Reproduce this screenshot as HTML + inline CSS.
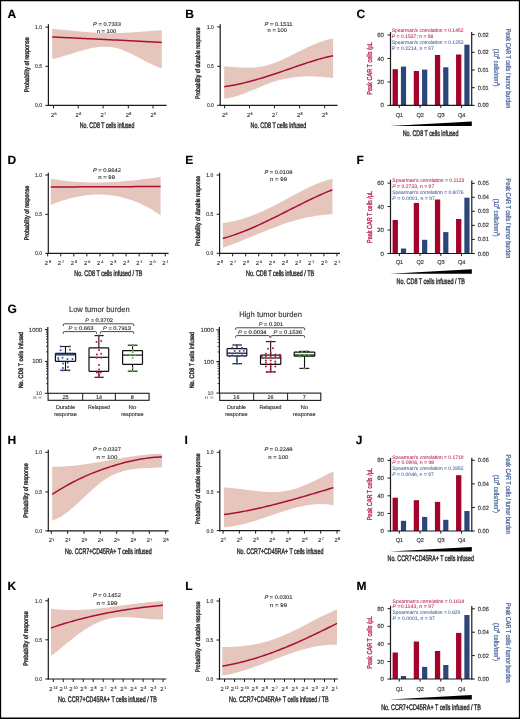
<!DOCTYPE html>
<html><head><meta charset="utf-8"><title>Figure</title>
<style>
html,body{margin:0;padding:0;background:#fff;}
body{width:520px;height:719px;overflow:hidden;}
svg{display:block;font-family:"Liberation Sans", sans-serif;will-change:transform;text-rendering:geometricPrecision;}
</style></head><body>
<svg width="520" height="719" viewBox="0 0 520 719">
<rect x="0" y="0" width="520" height="719" fill="#fff"/>
<g fill="#333">
<path d="M52.2,28.87 L54.53,29.04 L56.86,29.22 L59.2,29.42 L61.53,29.63 L63.86,29.84 L66.19,30.06 L68.52,30.29 L70.86,30.52 L73.19,30.75 L75.52,30.98 L77.85,31.2 L80.18,31.43 L82.51,31.64 L84.85,31.85 L87.18,32.05 L89.51,32.24 L91.84,32.41 L94.17,32.57 L96.51,32.72 L98.84,32.84 L101.17,32.95 L103.5,33.03 L105.83,33.09 L108.17,33.13 L110.5,33.14 L112.83,33.13 L115.16,33.1 L117.49,33.04 L119.83,32.98 L122.16,32.89 L124.49,32.79 L126.82,32.67 L129.15,32.55 L131.49,32.41 L133.82,32.26 L136.15,32.1 L138.48,31.93 L140.81,31.76 L143.14,31.58 L145.48,31.4 L147.81,31.22 L150.14,31.03 L152.47,30.85 L154.8,30.66 L157.14,30.48 L159.47,30.31 L161.8,30.14 L161.8,68.47 L159.47,67.66 L157.14,66.76 L154.8,65.77 L152.47,64.71 L150.14,63.59 L147.81,62.42 L145.48,61.21 L143.14,59.98 L140.81,58.74 L138.48,57.5 L136.15,56.27 L133.82,55.06 L131.49,53.89 L129.15,52.77 L126.82,51.71 L124.49,50.72 L122.16,49.81 L119.83,49 L117.49,48.3 L115.16,47.72 L112.83,47.27 L110.5,46.95 L108.17,46.75 L105.83,46.66 L103.5,46.68 L101.17,46.8 L98.84,47 L96.51,47.29 L94.17,47.66 L91.84,48.1 L89.51,48.59 L87.18,49.15 L84.85,49.75 L82.51,50.39 L80.18,51.06 L77.85,51.76 L75.52,52.47 L73.19,53.2 L70.86,53.93 L68.52,54.65 L66.19,55.37 L63.86,56.07 L61.53,56.74 L59.2,57.38 L56.86,57.97 L54.53,58.53 L52.2,59.02 Z" fill="#e6c6bc"/>
<path d="M52.2,37 L54.53,37.11 L56.86,37.21 L59.2,37.32 L61.53,37.43 L63.86,37.54 L66.19,37.64 L68.52,37.75 L70.86,37.86 L73.19,37.97 L75.52,38.08 L77.85,38.19 L80.18,38.3 L82.51,38.41 L84.85,38.52 L87.18,38.64 L89.51,38.75 L91.84,38.86 L94.17,38.97 L96.51,39.09 L98.84,39.2 L101.17,39.31 L103.5,39.43 L105.83,39.54 L108.17,39.66 L110.5,39.77 L112.83,39.89 L115.16,40 L117.49,40.12 L119.83,40.24 L122.16,40.35 L124.49,40.47 L126.82,40.59 L129.15,40.71 L131.49,40.83 L133.82,40.95 L136.15,41.06 L138.48,41.18 L140.81,41.3 L143.14,41.42 L145.48,41.55 L147.81,41.67 L150.14,41.79 L152.47,41.91 L154.8,42.03 L157.14,42.15 L159.47,42.28 L161.8,42.4" fill="none" stroke="#a90f35" stroke-width="1.5"/>
<line x1="48.4" y1="24.3" x2="48.4" y2="106" stroke="#1a1a1a" stroke-width="1.2"/>
<line x1="45.4" y1="27.1" x2="48.4" y2="27.1" stroke="#1a1a1a" stroke-width="1"/>
<text x="42.1" y="29" font-size="5.5" stroke="#333333" stroke-width="0.14" text-anchor="end" textLength="7" lengthAdjust="spacingAndGlyphs">1.0</text>
<line x1="45.4" y1="66.3" x2="48.4" y2="66.3" stroke="#1a1a1a" stroke-width="1"/>
<text x="42.1" y="68.2" font-size="5.5" stroke="#333333" stroke-width="0.14" text-anchor="end" textLength="7" lengthAdjust="spacingAndGlyphs">0.5</text>
<line x1="45.4" y1="105.4" x2="48.4" y2="105.4" stroke="#1a1a1a" stroke-width="1"/>
<text x="42.1" y="107.3" font-size="5.5" stroke="#333333" stroke-width="0.14" text-anchor="end" textLength="7" lengthAdjust="spacingAndGlyphs">0.0</text>
<line x1="47.8" y1="105.4" x2="166.6" y2="105.4" stroke="#1a1a1a" stroke-width="1.2"/>
<line x1="53.5" y1="105.4" x2="53.5" y2="108.4" stroke="#1a1a1a" stroke-width="1"/>
<text x="53.7" y="116.9" font-size="5.8" text-anchor="middle" stroke="#333333" stroke-width="0.14">2<tspan font-size="3.71" dx="0.3" dy="-1.9">5</tspan></text>
<line x1="78.2" y1="105.4" x2="78.2" y2="108.4" stroke="#1a1a1a" stroke-width="1"/>
<text x="78.4" y="116.9" font-size="5.8" text-anchor="middle" stroke="#333333" stroke-width="0.14">2<tspan font-size="3.71" dx="0.3" dy="-1.9">6</tspan></text>
<line x1="103.1" y1="105.4" x2="103.1" y2="108.4" stroke="#1a1a1a" stroke-width="1"/>
<text x="103.3" y="116.9" font-size="5.8" text-anchor="middle" stroke="#333333" stroke-width="0.14">2<tspan font-size="3.71" dx="0.3" dy="-1.9">7</tspan></text>
<line x1="128.3" y1="105.4" x2="128.3" y2="108.4" stroke="#1a1a1a" stroke-width="1"/>
<text x="128.5" y="116.9" font-size="5.8" text-anchor="middle" stroke="#333333" stroke-width="0.14">2<tspan font-size="3.71" dx="0.3" dy="-1.9">8</tspan></text>
<line x1="153" y1="105.4" x2="153" y2="108.4" stroke="#1a1a1a" stroke-width="1"/>
<text x="153.2" y="116.9" font-size="5.8" text-anchor="middle" stroke="#333333" stroke-width="0.14">2<tspan font-size="3.71" dx="0.3" dy="-1.9">9</tspan></text>
<text x="107" y="25.66" font-size="5.4" text-anchor="middle" stroke="#333333" stroke-width="0.14" textLength="28" lengthAdjust="spacingAndGlyphs"><tspan font-style="italic">P</tspan> = 0.7333</text>
<text x="106.5" y="32.6" font-size="5.4" stroke="#333333" stroke-width="0.14" text-anchor="middle" textLength="19.5" lengthAdjust="spacingAndGlyphs">n = 100</text>
<text transform="translate(26.4 64.8) rotate(-90)" x="0" y="2.27" font-size="6.6" text-anchor="middle" textLength="55" lengthAdjust="spacingAndGlyphs" stroke="#333333" stroke-width="0.45">Probability of response</text>
<text x="107.1" y="128.04" font-size="8.1" stroke="#333333" stroke-width="0.45" text-anchor="middle" textLength="54.6" lengthAdjust="spacingAndGlyphs">No. CD8 T cells infused</text>
<text x="7.5" y="18.3" font-size="12" stroke="#000" stroke-width="0.14" fill="#000" font-weight="bold">A</text>
<path d="M224.2,66.35 L226.52,66.51 L228.83,66.68 L231.15,66.86 L233.47,67.03 L235.79,67.19 L238.1,67.33 L240.42,67.45 L242.74,67.55 L245.05,67.61 L247.37,67.63 L249.69,67.6 L252,67.52 L254.32,67.38 L256.64,67.18 L258.96,66.91 L261.27,66.56 L263.59,66.13 L265.91,65.61 L268.22,65 L270.54,64.3 L272.86,63.53 L275.17,62.68 L277.49,61.76 L279.81,60.79 L282.13,59.77 L284.44,58.71 L286.76,57.61 L289.08,56.49 L291.39,55.35 L293.71,54.2 L296.03,53.03 L298.34,51.87 L300.66,50.71 L302.98,49.56 L305.3,48.43 L307.61,47.32 L309.93,46.24 L312.25,45.19 L314.56,44.19 L316.88,43.24 L319.2,42.33 L321.51,41.49 L323.83,40.71 L326.15,40.01 L328.47,39.38 L330.78,38.84 L333.1,38.39 L333.1,77.98 L330.78,77.69 L328.47,77.43 L326.15,77.19 L323.83,76.98 L321.51,76.79 L319.2,76.64 L316.88,76.51 L314.56,76.42 L312.25,76.37 L309.93,76.34 L307.61,76.36 L305.3,76.41 L302.98,76.51 L300.66,76.64 L298.34,76.82 L296.03,77.05 L293.71,77.32 L291.39,77.63 L289.08,78 L286.76,78.41 L284.44,78.88 L282.13,79.4 L279.81,79.98 L277.49,80.62 L275.17,81.31 L272.86,82.06 L270.54,82.86 L268.22,83.71 L265.91,84.61 L263.59,85.53 L261.27,86.48 L258.96,87.44 L256.64,88.41 L254.32,89.39 L252,90.36 L249.69,91.31 L247.37,92.25 L245.05,93.16 L242.74,94.03 L240.42,94.85 L238.1,95.63 L235.79,96.35 L233.47,97 L231.15,97.58 L228.83,98.08 L226.52,98.49 L224.2,98.81 Z" fill="#e6c6bc"/>
<path d="M224.2,86.67 L226.52,86.33 L228.83,85.97 L231.15,85.57 L233.47,85.14 L235.79,84.69 L238.1,84.21 L240.42,83.71 L242.74,83.18 L245.05,82.63 L247.37,82.05 L249.69,81.46 L252,80.84 L254.32,80.21 L256.64,79.55 L258.96,78.88 L261.27,78.2 L263.59,77.49 L265.91,76.77 L268.22,76.04 L270.54,75.29 L272.86,74.54 L275.17,73.77 L277.49,72.99 L279.81,72.2 L282.13,71.41 L284.44,70.61 L286.76,69.8 L289.08,68.99 L291.39,68.18 L293.71,67.37 L296.03,66.57 L298.34,65.77 L300.66,64.98 L302.98,64.2 L305.3,63.42 L307.61,62.66 L309.93,61.92 L312.25,61.19 L314.56,60.48 L316.88,59.8 L319.2,59.13 L321.51,58.49 L323.83,57.87 L326.15,57.29 L328.47,56.73 L330.78,56.21 L333.1,55.72" fill="none" stroke="#a90f35" stroke-width="1.5"/>
<line x1="220.2" y1="24.3" x2="220.2" y2="105.9" stroke="#1a1a1a" stroke-width="1.2"/>
<line x1="217.2" y1="26.9" x2="220.2" y2="26.9" stroke="#1a1a1a" stroke-width="1"/>
<text x="213.9" y="28.8" font-size="5.5" stroke="#333333" stroke-width="0.14" text-anchor="end" textLength="7" lengthAdjust="spacingAndGlyphs">1.0</text>
<line x1="217.2" y1="66.3" x2="220.2" y2="66.3" stroke="#1a1a1a" stroke-width="1"/>
<text x="213.9" y="68.2" font-size="5.5" stroke="#333333" stroke-width="0.14" text-anchor="end" textLength="7" lengthAdjust="spacingAndGlyphs">0.5</text>
<line x1="217.2" y1="105.3" x2="220.2" y2="105.3" stroke="#1a1a1a" stroke-width="1"/>
<text x="213.9" y="107.2" font-size="5.5" stroke="#333333" stroke-width="0.14" text-anchor="end" textLength="7" lengthAdjust="spacingAndGlyphs">0.0</text>
<line x1="219.6" y1="105.3" x2="337.6" y2="105.3" stroke="#1a1a1a" stroke-width="1.2"/>
<line x1="224.6" y1="105.3" x2="224.6" y2="108.3" stroke="#1a1a1a" stroke-width="1"/>
<text x="224.8" y="116.8" font-size="5.8" text-anchor="middle" stroke="#333333" stroke-width="0.14">2<tspan font-size="3.71" dx="0.3" dy="-1.9">5</tspan></text>
<line x1="249.5" y1="105.3" x2="249.5" y2="108.3" stroke="#1a1a1a" stroke-width="1"/>
<text x="249.7" y="116.8" font-size="5.8" text-anchor="middle" stroke="#333333" stroke-width="0.14">2<tspan font-size="3.71" dx="0.3" dy="-1.9">6</tspan></text>
<line x1="274.5" y1="105.3" x2="274.5" y2="108.3" stroke="#1a1a1a" stroke-width="1"/>
<text x="274.7" y="116.8" font-size="5.8" text-anchor="middle" stroke="#333333" stroke-width="0.14">2<tspan font-size="3.71" dx="0.3" dy="-1.9">7</tspan></text>
<line x1="299.6" y1="105.3" x2="299.6" y2="108.3" stroke="#1a1a1a" stroke-width="1"/>
<text x="299.8" y="116.8" font-size="5.8" text-anchor="middle" stroke="#333333" stroke-width="0.14">2<tspan font-size="3.71" dx="0.3" dy="-1.9">8</tspan></text>
<line x1="324.6" y1="105.3" x2="324.6" y2="108.3" stroke="#1a1a1a" stroke-width="1"/>
<text x="324.8" y="116.8" font-size="5.8" text-anchor="middle" stroke="#333333" stroke-width="0.14">2<tspan font-size="3.71" dx="0.3" dy="-1.9">9</tspan></text>
<text x="278.5" y="25.96" font-size="5.4" text-anchor="middle" stroke="#333333" stroke-width="0.14" textLength="28" lengthAdjust="spacingAndGlyphs"><tspan font-style="italic">P</tspan> = 0.1511</text>
<text x="277.3" y="32.3" font-size="5.4" stroke="#333333" stroke-width="0.14" text-anchor="middle" textLength="19.5" lengthAdjust="spacingAndGlyphs">n = 100</text>
<text transform="translate(197.8 63.2) rotate(-90)" x="0" y="2.27" font-size="6.6" text-anchor="middle" textLength="71.6" lengthAdjust="spacingAndGlyphs" stroke="#333333" stroke-width="0.45">Probability of durable response</text>
<text x="278.45" y="127.99" font-size="8.1" stroke="#333333" stroke-width="0.45" text-anchor="middle" textLength="55.7" lengthAdjust="spacingAndGlyphs">No. CD8 T cells infused</text>
<text x="185.3" y="17.6" font-size="12" stroke="#000" stroke-width="0.14" fill="#000" font-weight="bold">B</text>
<path d="M50.8,178.71 L53.14,179.1 L55.47,179.47 L57.81,179.82 L60.14,180.15 L62.48,180.46 L64.82,180.74 L67.15,181 L69.49,181.24 L71.83,181.46 L74.16,181.65 L76.5,181.83 L78.83,181.98 L81.17,182.11 L83.51,182.23 L85.84,182.32 L88.18,182.39 L90.51,182.45 L92.85,182.48 L95.19,182.5 L97.52,182.49 L99.86,182.47 L102.2,182.42 L104.53,182.36 L106.87,182.28 L109.2,182.19 L111.54,182.07 L113.88,181.94 L116.21,181.8 L118.55,181.63 L120.89,181.46 L123.22,181.27 L125.56,181.07 L127.89,180.85 L130.23,180.63 L132.57,180.39 L134.9,180.15 L137.24,179.89 L139.57,179.63 L141.91,179.36 L144.25,179.08 L146.58,178.8 L148.92,178.51 L151.26,178.22 L153.59,177.92 L155.93,177.62 L158.26,177.31 L160.6,177.01 L160.6,215.33 L158.26,213.73 L155.93,212.19 L153.59,210.72 L151.26,209.33 L148.92,207.99 L146.58,206.73 L144.25,205.53 L141.91,204.4 L139.57,203.33 L137.24,202.33 L134.9,201.39 L132.57,200.52 L130.23,199.7 L127.89,198.95 L125.56,198.26 L123.22,197.64 L120.89,197.07 L118.55,196.56 L116.21,196.11 L113.88,195.72 L111.54,195.38 L109.2,195.11 L106.87,194.89 L104.53,194.72 L102.2,194.62 L99.86,194.56 L97.52,194.56 L95.19,194.61 L92.85,194.72 L90.51,194.88 L88.18,195.09 L85.84,195.35 L83.51,195.66 L81.17,196.02 L78.83,196.43 L76.5,196.89 L74.16,197.39 L71.83,197.94 L69.49,198.54 L67.15,199.19 L64.82,199.88 L62.48,200.62 L60.14,201.39 L57.81,202.22 L55.47,203.08 L53.14,203.99 L50.8,204.94 Z" fill="#e6c6bc"/>
<path d="M50.8,187 L53.14,186.99 L55.47,186.98 L57.81,186.97 L60.14,186.96 L62.48,186.95 L64.82,186.94 L67.15,186.93 L69.49,186.91 L71.83,186.9 L74.16,186.89 L76.5,186.88 L78.83,186.87 L81.17,186.86 L83.51,186.85 L85.84,186.84 L88.18,186.83 L90.51,186.82 L92.85,186.81 L95.19,186.8 L97.52,186.79 L99.86,186.78 L102.2,186.77 L104.53,186.76 L106.87,186.74 L109.2,186.73 L111.54,186.72 L113.88,186.71 L116.21,186.7 L118.55,186.69 L120.89,186.68 L123.22,186.67 L125.56,186.66 L127.89,186.65 L130.23,186.64 L132.57,186.63 L134.9,186.62 L137.24,186.61 L139.57,186.6 L141.91,186.59 L144.25,186.57 L146.58,186.56 L148.92,186.55 L151.26,186.54 L153.59,186.53 L155.93,186.52 L158.26,186.51 L160.6,186.5" fill="none" stroke="#a90f35" stroke-width="1.5"/>
<line x1="48.3" y1="172.7" x2="48.3" y2="254" stroke="#1a1a1a" stroke-width="1.2"/>
<line x1="45.3" y1="175" x2="48.3" y2="175" stroke="#1a1a1a" stroke-width="1"/>
<text x="42" y="176.9" font-size="5.5" stroke="#333333" stroke-width="0.14" text-anchor="end" textLength="7" lengthAdjust="spacingAndGlyphs">1.0</text>
<line x1="45.3" y1="214.4" x2="48.3" y2="214.4" stroke="#1a1a1a" stroke-width="1"/>
<text x="42" y="216.3" font-size="5.5" stroke="#333333" stroke-width="0.14" text-anchor="end" textLength="7" lengthAdjust="spacingAndGlyphs">0.5</text>
<line x1="45.3" y1="253.4" x2="48.3" y2="253.4" stroke="#1a1a1a" stroke-width="1"/>
<text x="42" y="255.3" font-size="5.5" stroke="#333333" stroke-width="0.14" text-anchor="end" textLength="7" lengthAdjust="spacingAndGlyphs">0.0</text>
<line x1="47.7" y1="253.4" x2="168.6" y2="253.4" stroke="#1a1a1a" stroke-width="1.2"/>
<line x1="47.7" y1="253.4" x2="47.7" y2="256.4" stroke="#1a1a1a" stroke-width="1"/>
<text x="47.9" y="264.9" font-size="5.8" text-anchor="middle" stroke="#333333" stroke-width="0.14">2<tspan font-size="3.71" dx="1" dy="-1.9">8</tspan></text>
<line x1="60.76" y1="253.4" x2="60.76" y2="256.4" stroke="#1a1a1a" stroke-width="1"/>
<text x="60.96" y="264.9" font-size="5.8" text-anchor="middle" stroke="#333333" stroke-width="0.14">2<tspan font-size="3.71" dx="1" dy="-1.9">7</tspan></text>
<line x1="73.82" y1="253.4" x2="73.82" y2="256.4" stroke="#1a1a1a" stroke-width="1"/>
<text x="74.02" y="264.9" font-size="5.8" text-anchor="middle" stroke="#333333" stroke-width="0.14">2<tspan font-size="3.71" dx="1" dy="-1.9">6</tspan></text>
<line x1="86.88" y1="253.4" x2="86.88" y2="256.4" stroke="#1a1a1a" stroke-width="1"/>
<text x="87.08" y="264.9" font-size="5.8" text-anchor="middle" stroke="#333333" stroke-width="0.14">2<tspan font-size="3.71" dx="1" dy="-1.9">5</tspan></text>
<line x1="99.94" y1="253.4" x2="99.94" y2="256.4" stroke="#1a1a1a" stroke-width="1"/>
<text x="100.14" y="264.9" font-size="5.8" text-anchor="middle" stroke="#333333" stroke-width="0.14">2<tspan font-size="3.71" dx="1" dy="-1.9">4</tspan></text>
<line x1="113" y1="253.4" x2="113" y2="256.4" stroke="#1a1a1a" stroke-width="1"/>
<text x="113.2" y="264.9" font-size="5.8" text-anchor="middle" stroke="#333333" stroke-width="0.14">2<tspan font-size="3.71" dx="1" dy="-1.9">3</tspan></text>
<line x1="126.06" y1="253.4" x2="126.06" y2="256.4" stroke="#1a1a1a" stroke-width="1"/>
<text x="126.26" y="264.9" font-size="5.8" text-anchor="middle" stroke="#333333" stroke-width="0.14">2<tspan font-size="3.71" dx="1" dy="-1.9">2</tspan></text>
<line x1="139.12" y1="253.4" x2="139.12" y2="256.4" stroke="#1a1a1a" stroke-width="1"/>
<text x="139.32" y="264.9" font-size="5.8" text-anchor="middle" stroke="#333333" stroke-width="0.14">2<tspan font-size="3.71" dx="1" dy="-1.9">1</tspan></text>
<line x1="152.18" y1="253.4" x2="152.18" y2="256.4" stroke="#1a1a1a" stroke-width="1"/>
<text x="152.38" y="264.9" font-size="5.8" text-anchor="middle" stroke="#333333" stroke-width="0.14">2<tspan font-size="3.71" dx="1" dy="-1.9">0</tspan></text>
<line x1="165.24" y1="253.4" x2="165.24" y2="256.4" stroke="#1a1a1a" stroke-width="1"/>
<text x="165.44" y="264.9" font-size="5.8" text-anchor="middle" stroke="#333333" stroke-width="0.14">2<tspan font-size="3.71" dx="1" dy="-1.9">1</tspan></text>
<text x="106.9" y="172.06" font-size="5.4" text-anchor="middle" stroke="#333333" stroke-width="0.14" textLength="28" lengthAdjust="spacingAndGlyphs"><tspan font-style="italic">P</tspan> = 0.9642</text>
<text x="106.6" y="178.8" font-size="5.4" stroke="#333333" stroke-width="0.14" text-anchor="middle" textLength="16.7" lengthAdjust="spacingAndGlyphs">n = 99</text>
<text transform="translate(26.4 213.05) rotate(-90)" x="0" y="2.27" font-size="6.6" text-anchor="middle" textLength="54.5" lengthAdjust="spacingAndGlyphs" stroke="#333333" stroke-width="0.45">Probability of response</text>
<text x="108.3" y="276.19" font-size="8.1" stroke="#333333" stroke-width="0.45" text-anchor="middle" textLength="68" lengthAdjust="spacingAndGlyphs">No. CD8 T cells infused / TB</text>
<text x="7.5" y="164.4" font-size="12" stroke="#000" stroke-width="0.14" fill="#000" font-weight="bold">D</text>
<path d="M222.8,223.06 L225.13,222.78 L227.46,222.43 L229.8,222.03 L232.13,221.57 L234.46,221.05 L236.79,220.48 L239.12,219.85 L241.46,219.18 L243.79,218.46 L246.12,217.69 L248.45,216.88 L250.78,216.03 L253.11,215.14 L255.45,214.21 L257.78,213.24 L260.11,212.24 L262.44,211.21 L264.77,210.15 L267.11,209.06 L269.44,207.94 L271.77,206.8 L274.1,205.64 L276.43,204.46 L278.77,203.26 L281.1,202.05 L283.43,200.82 L285.76,199.58 L288.09,198.32 L290.43,197.07 L292.76,195.8 L295.09,194.54 L297.42,193.28 L299.75,192.04 L302.09,190.82 L304.42,189.61 L306.75,188.44 L309.08,187.29 L311.41,186.19 L313.74,185.13 L316.08,184.12 L318.41,183.16 L320.74,182.27 L323.07,181.44 L325.4,180.68 L327.74,179.99 L330.07,179.39 L332.4,178.87 L332.4,214.15 L330.07,214.29 L327.74,214.47 L325.4,214.68 L323.07,214.93 L320.74,215.21 L318.41,215.52 L316.08,215.87 L313.74,216.25 L311.41,216.67 L309.08,217.11 L306.75,217.59 L304.42,218.1 L302.09,218.64 L299.75,219.22 L297.42,219.83 L295.09,220.46 L292.76,221.13 L290.43,221.83 L288.09,222.57 L285.76,223.33 L283.43,224.11 L281.1,224.93 L278.77,225.77 L276.43,226.63 L274.1,227.51 L271.77,228.4 L269.44,229.32 L267.11,230.24 L264.77,231.18 L262.44,232.13 L260.11,233.08 L257.78,234.04 L255.45,235.01 L253.11,235.97 L250.78,236.94 L248.45,237.9 L246.12,238.86 L243.79,239.81 L241.46,240.75 L239.12,241.68 L236.79,242.6 L234.46,243.51 L232.13,244.39 L229.8,245.26 L227.46,246.11 L225.13,246.94 L222.8,247.74 Z" fill="#e6c6bc"/>
<path d="M222.8,238.45 L225.13,237.8 L227.46,237.11 L229.8,236.39 L232.13,235.64 L234.46,234.85 L236.79,234.03 L239.12,233.17 L241.46,232.29 L243.79,231.38 L246.12,230.45 L248.45,229.48 L250.78,228.5 L253.11,227.49 L255.45,226.46 L257.78,225.41 L260.11,224.34 L262.44,223.26 L264.77,222.16 L267.11,221.04 L269.44,219.92 L271.77,218.78 L274.1,217.63 L276.43,216.47 L278.77,215.31 L281.1,214.14 L283.43,212.97 L285.76,211.79 L288.09,210.61 L290.43,209.43 L292.76,208.25 L295.09,207.08 L297.42,205.91 L299.75,204.74 L302.09,203.58 L304.42,202.43 L306.75,201.29 L309.08,200.16 L311.41,199.04 L313.74,197.93 L316.08,196.84 L318.41,195.77 L320.74,194.72 L323.07,193.68 L325.4,192.66 L327.74,191.67 L330.07,190.7 L332.4,189.75" fill="none" stroke="#a90f35" stroke-width="1.5"/>
<line x1="219.6" y1="172.7" x2="219.6" y2="253.9" stroke="#1a1a1a" stroke-width="1.2"/>
<line x1="216.6" y1="175" x2="219.6" y2="175" stroke="#1a1a1a" stroke-width="1"/>
<text x="213.3" y="176.9" font-size="5.5" stroke="#333333" stroke-width="0.14" text-anchor="end" textLength="7" lengthAdjust="spacingAndGlyphs">1.0</text>
<line x1="216.6" y1="214.3" x2="219.6" y2="214.3" stroke="#1a1a1a" stroke-width="1"/>
<text x="213.3" y="216.2" font-size="5.5" stroke="#333333" stroke-width="0.14" text-anchor="end" textLength="7" lengthAdjust="spacingAndGlyphs">0.5</text>
<line x1="216.6" y1="253.3" x2="219.6" y2="253.3" stroke="#1a1a1a" stroke-width="1"/>
<text x="213.3" y="255.2" font-size="5.5" stroke="#333333" stroke-width="0.14" text-anchor="end" textLength="7" lengthAdjust="spacingAndGlyphs">0.0</text>
<line x1="219" y1="253.3" x2="340" y2="253.3" stroke="#1a1a1a" stroke-width="1.2"/>
<line x1="219.6" y1="253.3" x2="219.6" y2="256.3" stroke="#1a1a1a" stroke-width="1"/>
<text x="219.8" y="264.8" font-size="5.8" text-anchor="middle" stroke="#333333" stroke-width="0.14">2<tspan font-size="3.71" dx="1" dy="-1.9">8</tspan></text>
<line x1="232.64" y1="253.3" x2="232.64" y2="256.3" stroke="#1a1a1a" stroke-width="1"/>
<text x="232.84" y="264.8" font-size="5.8" text-anchor="middle" stroke="#333333" stroke-width="0.14">2<tspan font-size="3.71" dx="1" dy="-1.9">7</tspan></text>
<line x1="245.68" y1="253.3" x2="245.68" y2="256.3" stroke="#1a1a1a" stroke-width="1"/>
<text x="245.88" y="264.8" font-size="5.8" text-anchor="middle" stroke="#333333" stroke-width="0.14">2<tspan font-size="3.71" dx="1" dy="-1.9">6</tspan></text>
<line x1="258.72" y1="253.3" x2="258.72" y2="256.3" stroke="#1a1a1a" stroke-width="1"/>
<text x="258.92" y="264.8" font-size="5.8" text-anchor="middle" stroke="#333333" stroke-width="0.14">2<tspan font-size="3.71" dx="1" dy="-1.9">5</tspan></text>
<line x1="271.76" y1="253.3" x2="271.76" y2="256.3" stroke="#1a1a1a" stroke-width="1"/>
<text x="271.96" y="264.8" font-size="5.8" text-anchor="middle" stroke="#333333" stroke-width="0.14">2<tspan font-size="3.71" dx="1" dy="-1.9">4</tspan></text>
<line x1="284.8" y1="253.3" x2="284.8" y2="256.3" stroke="#1a1a1a" stroke-width="1"/>
<text x="285" y="264.8" font-size="5.8" text-anchor="middle" stroke="#333333" stroke-width="0.14">2<tspan font-size="3.71" dx="1" dy="-1.9">3</tspan></text>
<line x1="297.84" y1="253.3" x2="297.84" y2="256.3" stroke="#1a1a1a" stroke-width="1"/>
<text x="298.04" y="264.8" font-size="5.8" text-anchor="middle" stroke="#333333" stroke-width="0.14">2<tspan font-size="3.71" dx="1" dy="-1.9">2</tspan></text>
<line x1="310.88" y1="253.3" x2="310.88" y2="256.3" stroke="#1a1a1a" stroke-width="1"/>
<text x="311.08" y="264.8" font-size="5.8" text-anchor="middle" stroke="#333333" stroke-width="0.14">2<tspan font-size="3.71" dx="1" dy="-1.9">1</tspan></text>
<line x1="323.92" y1="253.3" x2="323.92" y2="256.3" stroke="#1a1a1a" stroke-width="1"/>
<text x="324.12" y="264.8" font-size="5.8" text-anchor="middle" stroke="#333333" stroke-width="0.14">2<tspan font-size="3.71" dx="1" dy="-1.9">0</tspan></text>
<line x1="336.96" y1="253.3" x2="336.96" y2="256.3" stroke="#1a1a1a" stroke-width="1"/>
<text x="337.16" y="264.8" font-size="5.8" text-anchor="middle" stroke="#333333" stroke-width="0.14">2<tspan font-size="3.71" dx="1" dy="-1.9">1</tspan></text>
<text x="278.4" y="173.96" font-size="5.4" text-anchor="middle" stroke="#333333" stroke-width="0.14" textLength="28" lengthAdjust="spacingAndGlyphs"><tspan font-style="italic">P</tspan> = 0.0108</text>
<text x="278.5" y="181.2" font-size="5.4" stroke="#333333" stroke-width="0.14" text-anchor="middle" textLength="17" lengthAdjust="spacingAndGlyphs">n = 99</text>
<text transform="translate(197.9 211.1) rotate(-90)" x="0" y="2.27" font-size="6.6" text-anchor="middle" textLength="70.4" lengthAdjust="spacingAndGlyphs" stroke="#333333" stroke-width="0.45">Probability of durable response</text>
<text x="280.05" y="276.39" font-size="8.1" stroke="#333333" stroke-width="0.45" text-anchor="middle" textLength="68.1" lengthAdjust="spacingAndGlyphs">No. CD8 T cells infused / TB</text>
<text x="185.3" y="164.2" font-size="12" stroke="#000" stroke-width="0.14" fill="#000" font-weight="bold">E</text>
<path d="M52.2,466.7 L54.53,466.71 L56.87,466.69 L59.2,466.64 L61.54,466.55 L63.87,466.44 L66.2,466.29 L68.54,466.12 L70.87,465.92 L73.21,465.7 L75.54,465.45 L77.87,465.19 L80.21,464.9 L82.54,464.6 L84.88,464.27 L87.21,463.94 L89.54,463.58 L91.88,463.22 L94.21,462.84 L96.55,462.46 L98.88,462.06 L101.21,461.66 L103.55,461.26 L105.88,460.85 L108.22,460.43 L110.55,460.02 L112.89,459.61 L115.22,459.2 L117.55,458.79 L119.89,458.39 L122.22,457.99 L124.56,457.6 L126.89,457.22 L129.22,456.85 L131.56,456.5 L133.89,456.16 L136.23,455.83 L138.56,455.52 L140.89,455.23 L143.23,454.96 L145.56,454.71 L147.9,454.48 L150.23,454.27 L152.56,454.1 L154.9,453.94 L157.23,453.82 L159.57,453.73 L161.9,453.67 L161.9,467.37 L159.57,467.51 L157.23,467.62 L154.9,467.72 L152.56,467.81 L150.23,467.9 L147.9,468 L145.56,468.1 L143.23,468.23 L140.89,468.39 L138.56,468.57 L136.23,468.8 L133.89,469.08 L131.56,469.42 L129.22,469.82 L126.89,470.28 L124.56,470.83 L122.22,471.46 L119.89,472.18 L117.55,473 L115.22,473.93 L112.89,474.97 L110.55,476.12 L108.22,477.41 L105.88,478.83 L103.55,480.4 L101.21,482.1 L98.88,483.94 L96.55,485.88 L94.21,487.92 L91.88,490.02 L89.54,492.19 L87.21,494.38 L84.88,496.6 L82.54,498.82 L80.21,501.01 L77.87,503.17 L75.54,505.28 L73.21,507.33 L70.87,509.3 L68.54,511.18 L66.2,512.96 L63.87,514.62 L61.54,516.16 L59.2,517.55 L56.87,518.78 L54.53,519.84 L52.2,520.72 Z" fill="#e6c6bc"/>
<path d="M52.2,494.41 L54.53,492.88 L56.87,491.39 L59.2,489.94 L61.54,488.52 L63.87,487.15 L66.2,485.82 L68.54,484.52 L70.87,483.26 L73.21,482.03 L75.54,480.84 L77.87,479.69 L80.21,478.57 L82.54,477.48 L84.88,476.42 L87.21,475.39 L89.54,474.39 L91.88,473.43 L94.21,472.49 L96.55,471.58 L98.88,470.69 L101.21,469.84 L103.55,469.01 L105.88,468.2 L108.22,467.42 L110.55,466.66 L112.89,465.93 L115.22,465.21 L117.55,464.52 L119.89,463.86 L122.22,463.21 L124.56,462.6 L126.89,462.01 L129.22,461.45 L131.56,460.92 L133.89,460.41 L136.23,459.94 L138.56,459.5 L140.89,459.09 L143.23,458.71 L145.56,458.37 L147.9,458.06 L150.23,457.79 L152.56,457.55 L154.9,457.36 L157.23,457.2 L159.57,457.08 L161.9,457" fill="none" stroke="#a90f35" stroke-width="1.5"/>
<line x1="48.3" y1="449.8" x2="48.3" y2="531.5" stroke="#1a1a1a" stroke-width="1.2"/>
<line x1="45.3" y1="452.3" x2="48.3" y2="452.3" stroke="#1a1a1a" stroke-width="1"/>
<text x="42" y="454.2" font-size="5.5" stroke="#333333" stroke-width="0.14" text-anchor="end" textLength="7" lengthAdjust="spacingAndGlyphs">1.0</text>
<line x1="45.3" y1="491.9" x2="48.3" y2="491.9" stroke="#1a1a1a" stroke-width="1"/>
<text x="42" y="493.8" font-size="5.5" stroke="#333333" stroke-width="0.14" text-anchor="end" textLength="7" lengthAdjust="spacingAndGlyphs">0.5</text>
<line x1="45.3" y1="530.9" x2="48.3" y2="530.9" stroke="#1a1a1a" stroke-width="1"/>
<text x="42" y="532.8" font-size="5.5" stroke="#333333" stroke-width="0.14" text-anchor="end" textLength="7" lengthAdjust="spacingAndGlyphs">0.0</text>
<line x1="47.7" y1="530.9" x2="168.6" y2="530.9" stroke="#1a1a1a" stroke-width="1.2"/>
<line x1="51.3" y1="530.9" x2="51.3" y2="533.9" stroke="#1a1a1a" stroke-width="1"/>
<text x="51.5" y="542.4" font-size="5.8" text-anchor="middle" stroke="#333333" stroke-width="0.14">2<tspan font-size="3.71" dx="0.3" dy="-1.9">1</tspan></text>
<line x1="67.64" y1="530.9" x2="67.64" y2="533.9" stroke="#1a1a1a" stroke-width="1"/>
<text x="67.84" y="542.4" font-size="5.8" text-anchor="middle" stroke="#333333" stroke-width="0.14">2<tspan font-size="3.71" dx="0.3" dy="-1.9">2</tspan></text>
<line x1="83.98" y1="530.9" x2="83.98" y2="533.9" stroke="#1a1a1a" stroke-width="1"/>
<text x="84.18" y="542.4" font-size="5.8" text-anchor="middle" stroke="#333333" stroke-width="0.14">2<tspan font-size="3.71" dx="0.3" dy="-1.9">3</tspan></text>
<line x1="100.32" y1="530.9" x2="100.32" y2="533.9" stroke="#1a1a1a" stroke-width="1"/>
<text x="100.52" y="542.4" font-size="5.8" text-anchor="middle" stroke="#333333" stroke-width="0.14">2<tspan font-size="3.71" dx="0.3" dy="-1.9">4</tspan></text>
<line x1="116.66" y1="530.9" x2="116.66" y2="533.9" stroke="#1a1a1a" stroke-width="1"/>
<text x="116.86" y="542.4" font-size="5.8" text-anchor="middle" stroke="#333333" stroke-width="0.14">2<tspan font-size="3.71" dx="0.3" dy="-1.9">5</tspan></text>
<line x1="133" y1="530.9" x2="133" y2="533.9" stroke="#1a1a1a" stroke-width="1"/>
<text x="133.2" y="542.4" font-size="5.8" text-anchor="middle" stroke="#333333" stroke-width="0.14">2<tspan font-size="3.71" dx="0.3" dy="-1.9">6</tspan></text>
<line x1="149.34" y1="530.9" x2="149.34" y2="533.9" stroke="#1a1a1a" stroke-width="1"/>
<text x="149.54" y="542.4" font-size="5.8" text-anchor="middle" stroke="#333333" stroke-width="0.14">2<tspan font-size="3.71" dx="0.3" dy="-1.9">7</tspan></text>
<line x1="165.68" y1="530.9" x2="165.68" y2="533.9" stroke="#1a1a1a" stroke-width="1"/>
<text x="165.88" y="542.4" font-size="5.8" text-anchor="middle" stroke="#333333" stroke-width="0.14">2<tspan font-size="3.71" dx="0.3" dy="-1.9">8</tspan></text>
<text x="106.9" y="451.46" font-size="5.4" text-anchor="middle" stroke="#333333" stroke-width="0.14" textLength="28" lengthAdjust="spacingAndGlyphs"><tspan font-style="italic">P</tspan> = 0.0327</text>
<text x="106.9" y="458.7" font-size="5.4" stroke="#333333" stroke-width="0.14" text-anchor="middle" textLength="21" lengthAdjust="spacingAndGlyphs">n = 100</text>
<text transform="translate(25.7 490.55) rotate(-90)" x="0" y="2.27" font-size="6.6" text-anchor="middle" textLength="54.5" lengthAdjust="spacingAndGlyphs" stroke="#333333" stroke-width="0.45">Probability of response</text>
<text x="108.3" y="553.74" font-size="8.1" stroke="#333333" stroke-width="0.45" text-anchor="middle" textLength="86.6" lengthAdjust="spacingAndGlyphs">No. CCR7+CD45RA+ T cells infused</text>
<text x="7.5" y="443.8" font-size="12" stroke="#000" stroke-width="0.14" fill="#000" font-weight="bold">H</text>
<path d="M223.9,487.5 L226.23,487.61 L228.56,487.77 L230.9,487.97 L233.23,488.19 L235.56,488.44 L237.89,488.71 L240.22,488.99 L242.56,489.29 L244.89,489.6 L247.22,489.9 L249.55,490.2 L251.88,490.5 L254.21,490.78 L256.55,491.05 L258.88,491.29 L261.21,491.51 L263.54,491.7 L265.87,491.85 L268.21,491.96 L270.54,492.02 L272.87,492.03 L275.2,491.99 L277.53,491.89 L279.87,491.73 L282.2,491.49 L284.53,491.19 L286.86,490.8 L289.19,490.33 L291.53,489.77 L293.86,489.14 L296.19,488.42 L298.52,487.63 L300.85,486.78 L303.19,485.87 L305.52,484.91 L307.85,483.9 L310.18,482.85 L312.51,481.76 L314.84,480.64 L317.18,479.5 L319.51,478.34 L321.84,477.16 L324.17,475.98 L326.5,474.8 L328.84,473.62 L331.17,472.45 L333.5,471.3 L333.5,505.38 L331.17,504.96 L328.84,504.62 L326.5,504.37 L324.17,504.21 L321.84,504.13 L319.51,504.12 L317.18,504.19 L314.84,504.33 L312.51,504.53 L310.18,504.8 L307.85,505.13 L305.52,505.51 L303.19,505.95 L300.85,506.44 L298.52,506.97 L296.19,507.54 L293.86,508.16 L291.53,508.81 L289.19,509.49 L286.86,510.2 L284.53,510.93 L282.2,511.68 L279.87,512.45 L277.53,513.24 L275.2,514.04 L272.87,514.84 L270.54,515.65 L268.21,516.46 L265.87,517.26 L263.54,518.06 L261.21,518.85 L258.88,519.62 L256.55,520.38 L254.21,521.11 L251.88,521.82 L249.55,522.5 L247.22,523.15 L244.89,523.77 L242.56,524.35 L240.22,524.88 L237.89,525.37 L235.56,525.81 L233.23,526.2 L230.9,526.54 L228.56,526.81 L226.23,527.02 L223.9,527.16 Z" fill="#e6c6bc"/>
<path d="M223.9,514.6 L226.23,514.28 L228.56,513.94 L230.9,513.58 L233.23,513.21 L235.56,512.82 L237.89,512.42 L240.22,512 L242.56,511.57 L244.89,511.13 L247.22,510.67 L249.55,510.2 L251.88,509.72 L254.21,509.23 L256.55,508.72 L258.88,508.2 L261.21,507.67 L263.54,507.13 L265.87,506.58 L268.21,506.02 L270.54,505.44 L272.87,504.86 L275.2,504.27 L277.53,503.68 L279.87,503.07 L282.2,502.45 L284.53,501.83 L286.86,501.2 L289.19,500.56 L291.53,499.92 L293.86,499.27 L296.19,498.61 L298.52,497.95 L300.85,497.28 L303.19,496.61 L305.52,495.94 L307.85,495.26 L310.18,494.57 L312.51,493.88 L314.84,493.19 L317.18,492.5 L319.51,491.8 L321.84,491.11 L324.17,490.41 L326.5,489.71 L328.84,489.01 L331.17,488.3 L333.5,487.6" fill="none" stroke="#a90f35" stroke-width="1.5"/>
<line x1="219.8" y1="449.8" x2="219.8" y2="531.2" stroke="#1a1a1a" stroke-width="1.2"/>
<line x1="216.8" y1="452.3" x2="219.8" y2="452.3" stroke="#1a1a1a" stroke-width="1"/>
<text x="213.5" y="454.2" font-size="5.5" stroke="#333333" stroke-width="0.14" text-anchor="end" textLength="7" lengthAdjust="spacingAndGlyphs">1.0</text>
<line x1="216.8" y1="492" x2="219.8" y2="492" stroke="#1a1a1a" stroke-width="1"/>
<text x="213.5" y="493.9" font-size="5.5" stroke="#333333" stroke-width="0.14" text-anchor="end" textLength="7" lengthAdjust="spacingAndGlyphs">0.5</text>
<line x1="216.8" y1="530.6" x2="219.8" y2="530.6" stroke="#1a1a1a" stroke-width="1"/>
<text x="213.5" y="532.5" font-size="5.5" stroke="#333333" stroke-width="0.14" text-anchor="end" textLength="7" lengthAdjust="spacingAndGlyphs">0.0</text>
<line x1="219.2" y1="530.6" x2="340.2" y2="530.6" stroke="#1a1a1a" stroke-width="1.2"/>
<line x1="223.1" y1="530.6" x2="223.1" y2="533.6" stroke="#1a1a1a" stroke-width="1"/>
<text x="223.3" y="542.1" font-size="5.8" text-anchor="middle" stroke="#333333" stroke-width="0.14">2<tspan font-size="3.71" dx="0.3" dy="-1.9">1</tspan></text>
<line x1="239.37" y1="530.6" x2="239.37" y2="533.6" stroke="#1a1a1a" stroke-width="1"/>
<text x="239.57" y="542.1" font-size="5.8" text-anchor="middle" stroke="#333333" stroke-width="0.14">2<tspan font-size="3.71" dx="0.3" dy="-1.9">2</tspan></text>
<line x1="255.64" y1="530.6" x2="255.64" y2="533.6" stroke="#1a1a1a" stroke-width="1"/>
<text x="255.84" y="542.1" font-size="5.8" text-anchor="middle" stroke="#333333" stroke-width="0.14">2<tspan font-size="3.71" dx="0.3" dy="-1.9">3</tspan></text>
<line x1="271.91" y1="530.6" x2="271.91" y2="533.6" stroke="#1a1a1a" stroke-width="1"/>
<text x="272.11" y="542.1" font-size="5.8" text-anchor="middle" stroke="#333333" stroke-width="0.14">2<tspan font-size="3.71" dx="0.3" dy="-1.9">4</tspan></text>
<line x1="288.18" y1="530.6" x2="288.18" y2="533.6" stroke="#1a1a1a" stroke-width="1"/>
<text x="288.38" y="542.1" font-size="5.8" text-anchor="middle" stroke="#333333" stroke-width="0.14">2<tspan font-size="3.71" dx="0.3" dy="-1.9">5</tspan></text>
<line x1="304.45" y1="530.6" x2="304.45" y2="533.6" stroke="#1a1a1a" stroke-width="1"/>
<text x="304.65" y="542.1" font-size="5.8" text-anchor="middle" stroke="#333333" stroke-width="0.14">2<tspan font-size="3.71" dx="0.3" dy="-1.9">6</tspan></text>
<line x1="320.72" y1="530.6" x2="320.72" y2="533.6" stroke="#1a1a1a" stroke-width="1"/>
<text x="320.92" y="542.1" font-size="5.8" text-anchor="middle" stroke="#333333" stroke-width="0.14">2<tspan font-size="3.71" dx="0.3" dy="-1.9">7</tspan></text>
<line x1="336.99" y1="530.6" x2="336.99" y2="533.6" stroke="#1a1a1a" stroke-width="1"/>
<text x="337.19" y="542.1" font-size="5.8" text-anchor="middle" stroke="#333333" stroke-width="0.14">2<tspan font-size="3.71" dx="0.3" dy="-1.9">8</tspan></text>
<text x="278.4" y="451.46" font-size="5.4" text-anchor="middle" stroke="#333333" stroke-width="0.14" textLength="28" lengthAdjust="spacingAndGlyphs"><tspan font-style="italic">P</tspan> = 0.2248</text>
<text x="278.3" y="458.7" font-size="5.4" stroke="#333333" stroke-width="0.14" text-anchor="middle" textLength="20" lengthAdjust="spacingAndGlyphs">n = 100</text>
<text transform="translate(198 488.8) rotate(-90)" x="0" y="2.27" font-size="6.6" text-anchor="middle" textLength="71" lengthAdjust="spacingAndGlyphs" stroke="#333333" stroke-width="0.45">Probability of durable response</text>
<text x="280.05" y="553.74" font-size="8.1" stroke="#333333" stroke-width="0.45" text-anchor="middle" textLength="86.7" lengthAdjust="spacingAndGlyphs">No. CCR7+CD45RA+ T cells infused</text>
<text x="184.6" y="443.5" font-size="12" stroke="#000" stroke-width="0.14" fill="#000" font-weight="bold">I</text>
<path d="M51,608.66 L53.38,608.98 L55.77,609.26 L58.15,609.49 L60.53,609.69 L62.91,609.85 L65.3,609.97 L67.68,610.05 L70.06,610.1 L72.45,610.11 L74.83,610.1 L77.21,610.05 L79.6,609.97 L81.98,609.87 L84.36,609.74 L86.74,609.59 L89.13,609.41 L91.51,609.22 L93.89,609 L96.28,608.77 L98.66,608.52 L101.04,608.25 L103.43,607.97 L105.81,607.68 L108.19,607.38 L110.57,607.07 L112.96,606.75 L115.34,606.43 L117.72,606.1 L120.11,605.77 L122.49,605.44 L124.87,605.1 L127.26,604.77 L129.64,604.44 L132.02,604.12 L134.4,603.81 L136.79,603.5 L139.17,603.2 L141.55,602.91 L143.94,602.63 L146.32,602.37 L148.7,602.12 L151.09,601.89 L153.47,601.68 L155.85,601.49 L158.23,601.32 L160.62,601.17 L163,601.05 L163,619.53 L160.62,619.57 L158.23,619.54 L155.85,619.46 L153.47,619.33 L151.09,619.17 L148.7,618.97 L146.32,618.74 L143.94,618.51 L141.55,618.26 L139.17,618.02 L136.79,617.79 L134.4,617.58 L132.02,617.4 L129.64,617.25 L127.26,617.15 L124.87,617.09 L122.49,617.1 L120.11,617.18 L117.72,617.34 L115.34,617.58 L112.96,617.91 L110.57,618.35 L108.19,618.9 L105.81,619.56 L103.43,620.33 L101.04,621.21 L98.66,622.19 L96.28,623.27 L93.89,624.44 L91.51,625.71 L89.13,627.06 L86.74,628.51 L84.36,630.03 L81.98,631.64 L79.6,633.32 L77.21,635.07 L74.83,636.89 L72.45,638.76 L70.06,640.68 L67.68,642.62 L65.3,644.57 L62.91,646.54 L60.53,648.5 L58.15,650.44 L55.77,652.35 L53.38,654.22 L51,656.03 Z" fill="#e6c6bc"/>
<path d="M51,627.97 L53.38,627.15 L55.77,626.34 L58.15,625.56 L60.53,624.79 L62.91,624.04 L65.3,623.31 L67.68,622.6 L70.06,621.9 L72.45,621.21 L74.83,620.55 L77.21,619.9 L79.6,619.27 L81.98,618.65 L84.36,618.05 L86.74,617.46 L89.13,616.89 L91.51,616.33 L93.89,615.78 L96.28,615.26 L98.66,614.74 L101.04,614.24 L103.43,613.75 L105.81,613.28 L108.19,612.82 L110.57,612.37 L112.96,611.93 L115.34,611.51 L117.72,611.1 L120.11,610.7 L122.49,610.31 L124.87,609.93 L127.26,609.57 L129.64,609.21 L132.02,608.87 L134.4,608.54 L136.79,608.21 L139.17,607.9 L141.55,607.6 L143.94,607.31 L146.32,607.02 L148.7,606.75 L151.09,606.48 L153.47,606.22 L155.85,605.98 L158.23,605.74 L160.62,605.5 L163,605.28" fill="none" stroke="#a90f35" stroke-width="1.5"/>
<line x1="48.3" y1="598.1" x2="48.3" y2="679.6" stroke="#1a1a1a" stroke-width="1.2"/>
<line x1="45.3" y1="600.8" x2="48.3" y2="600.8" stroke="#1a1a1a" stroke-width="1"/>
<text x="42" y="602.7" font-size="5.5" stroke="#333333" stroke-width="0.14" text-anchor="end" textLength="7" lengthAdjust="spacingAndGlyphs">1.0</text>
<line x1="45.3" y1="639.8" x2="48.3" y2="639.8" stroke="#1a1a1a" stroke-width="1"/>
<text x="42" y="641.7" font-size="5.5" stroke="#333333" stroke-width="0.14" text-anchor="end" textLength="7" lengthAdjust="spacingAndGlyphs">0.5</text>
<line x1="45.3" y1="679" x2="48.3" y2="679" stroke="#1a1a1a" stroke-width="1"/>
<text x="42" y="680.9" font-size="5.5" stroke="#333333" stroke-width="0.14" text-anchor="end" textLength="7" lengthAdjust="spacingAndGlyphs">0.0</text>
<line x1="47.7" y1="679" x2="166.4" y2="679" stroke="#1a1a1a" stroke-width="1.2"/>
<line x1="53.3" y1="679" x2="53.3" y2="682" stroke="#1a1a1a" stroke-width="1"/>
<text x="53.5" y="690.5" font-size="5.8" text-anchor="middle" stroke="#333333" stroke-width="0.14">2<tspan font-size="3.71" dx="0.9" dy="-1.9">12</tspan></text>
<line x1="63.28" y1="679" x2="63.28" y2="682" stroke="#1a1a1a" stroke-width="1"/>
<text x="63.48" y="690.5" font-size="5.8" text-anchor="middle" stroke="#333333" stroke-width="0.14">2<tspan font-size="3.71" dx="0.9" dy="-1.9">11</tspan></text>
<line x1="73.26" y1="679" x2="73.26" y2="682" stroke="#1a1a1a" stroke-width="1"/>
<text x="73.46" y="690.5" font-size="5.8" text-anchor="middle" stroke="#333333" stroke-width="0.14">2<tspan font-size="3.71" dx="0.9" dy="-1.9">10</tspan></text>
<line x1="83.24" y1="679" x2="83.24" y2="682" stroke="#1a1a1a" stroke-width="1"/>
<text x="83.44" y="690.5" font-size="5.8" text-anchor="middle" stroke="#333333" stroke-width="0.14">2<tspan font-size="3.71" dx="0.9" dy="-1.9">9</tspan></text>
<line x1="93.22" y1="679" x2="93.22" y2="682" stroke="#1a1a1a" stroke-width="1"/>
<text x="93.42" y="690.5" font-size="5.8" text-anchor="middle" stroke="#333333" stroke-width="0.14">2<tspan font-size="3.71" dx="0.9" dy="-1.9">8</tspan></text>
<line x1="103.2" y1="679" x2="103.2" y2="682" stroke="#1a1a1a" stroke-width="1"/>
<text x="103.4" y="690.5" font-size="5.8" text-anchor="middle" stroke="#333333" stroke-width="0.14">2<tspan font-size="3.71" dx="0.9" dy="-1.9">7</tspan></text>
<line x1="113.18" y1="679" x2="113.18" y2="682" stroke="#1a1a1a" stroke-width="1"/>
<text x="113.38" y="690.5" font-size="5.8" text-anchor="middle" stroke="#333333" stroke-width="0.14">2<tspan font-size="3.71" dx="0.9" dy="-1.9">6</tspan></text>
<line x1="123.16" y1="679" x2="123.16" y2="682" stroke="#1a1a1a" stroke-width="1"/>
<text x="123.36" y="690.5" font-size="5.8" text-anchor="middle" stroke="#333333" stroke-width="0.14">2<tspan font-size="3.71" dx="0.9" dy="-1.9">5</tspan></text>
<line x1="133.14" y1="679" x2="133.14" y2="682" stroke="#1a1a1a" stroke-width="1"/>
<text x="133.34" y="690.5" font-size="5.8" text-anchor="middle" stroke="#333333" stroke-width="0.14">2<tspan font-size="3.71" dx="0.9" dy="-1.9">4</tspan></text>
<line x1="143.12" y1="679" x2="143.12" y2="682" stroke="#1a1a1a" stroke-width="1"/>
<text x="143.32" y="690.5" font-size="5.8" text-anchor="middle" stroke="#333333" stroke-width="0.14">2<tspan font-size="3.71" dx="0.9" dy="-1.9">3</tspan></text>
<line x1="153.1" y1="679" x2="153.1" y2="682" stroke="#1a1a1a" stroke-width="1"/>
<text x="153.3" y="690.5" font-size="5.8" text-anchor="middle" stroke="#333333" stroke-width="0.14">2<tspan font-size="3.71" dx="0.9" dy="-1.9">2</tspan></text>
<line x1="163.08" y1="679" x2="163.08" y2="682" stroke="#1a1a1a" stroke-width="1"/>
<text x="163.28" y="690.5" font-size="5.8" text-anchor="middle" stroke="#333333" stroke-width="0.14">2<tspan font-size="3.71" dx="0.9" dy="-1.9">1</tspan></text>
<text x="106.9" y="597.46" font-size="5.4" text-anchor="middle" stroke="#333333" stroke-width="0.14" textLength="28" lengthAdjust="spacingAndGlyphs"><tspan font-style="italic">P</tspan> = 0.1452</text>
<text x="106.9" y="604.5" font-size="5.4" stroke="#333333" stroke-width="0.14" text-anchor="middle" textLength="21" lengthAdjust="spacingAndGlyphs">n = 199</text>
<text transform="translate(26.2 638.55) rotate(-90)" x="0" y="2.27" font-size="6.6" text-anchor="middle" textLength="54.5" lengthAdjust="spacingAndGlyphs" stroke="#333333" stroke-width="0.45">Probability of response</text>
<text x="107.45" y="702.19" font-size="8.1" stroke="#333333" stroke-width="0.45" text-anchor="middle" textLength="98.9" lengthAdjust="spacingAndGlyphs">No. CCR7+CD45RA+ T cells infused / TB</text>
<text x="7.5" y="590.4" font-size="12" stroke="#000" stroke-width="0.14" fill="#000" font-weight="bold">K</text>
<path d="M222.3,646.99 L224.74,646.98 L227.18,646.94 L229.62,646.88 L232.06,646.79 L234.5,646.67 L236.94,646.52 L239.38,646.34 L241.82,646.13 L244.26,645.87 L246.7,645.58 L249.14,645.25 L251.59,644.88 L254.03,644.46 L256.47,644 L258.91,643.49 L261.35,642.93 L263.79,642.32 L266.23,641.66 L268.67,640.94 L271.11,640.16 L273.55,639.34 L275.99,638.46 L278.43,637.54 L280.87,636.57 L283.31,635.56 L285.75,634.51 L288.19,633.41 L290.63,632.28 L293.07,631.11 L295.51,629.91 L297.95,628.69 L300.39,627.45 L302.83,626.19 L305.27,624.92 L307.71,623.64 L310.16,622.36 L312.6,621.09 L315.04,619.82 L317.48,618.57 L319.92,617.33 L322.36,616.11 L324.8,614.92 L327.24,613.76 L329.68,612.64 L332.12,611.56 L334.56,610.52 L337,609.54 L337,644.82 L334.56,644.75 L332.12,644.75 L329.68,644.83 L327.24,644.97 L324.8,645.18 L322.36,645.45 L319.92,645.78 L317.48,646.17 L315.04,646.62 L312.6,647.11 L310.16,647.66 L307.71,648.25 L305.27,648.89 L302.83,649.56 L300.39,650.28 L297.95,651.02 L295.51,651.8 L293.07,652.61 L290.63,653.44 L288.19,654.3 L285.75,655.17 L283.31,656.07 L280.87,656.97 L278.43,657.89 L275.99,658.82 L273.55,659.75 L271.11,660.68 L268.67,661.62 L266.23,662.55 L263.79,663.48 L261.35,664.39 L258.91,665.3 L256.47,666.19 L254.03,667.06 L251.59,667.91 L249.14,668.74 L246.7,669.54 L244.26,670.31 L241.82,671.05 L239.38,671.76 L236.94,672.43 L234.5,673.05 L232.06,673.64 L229.62,674.17 L227.18,674.66 L224.74,675.09 L222.3,675.47 Z" fill="#e6c6bc"/>
<path d="M222.3,666.1 L224.74,665.68 L227.18,665.24 L229.62,664.77 L232.06,664.28 L234.5,663.76 L236.94,663.21 L239.38,662.63 L241.82,662.03 L244.26,661.4 L246.7,660.75 L249.14,660.08 L251.59,659.38 L254.03,658.66 L256.47,657.91 L258.91,657.15 L261.35,656.35 L263.79,655.54 L266.23,654.71 L268.67,653.86 L271.11,652.98 L273.55,652.08 L275.99,651.17 L278.43,650.24 L280.87,649.28 L283.31,648.31 L285.75,647.32 L288.19,646.31 L290.63,645.29 L293.07,644.25 L295.51,643.19 L297.95,642.12 L300.39,641.03 L302.83,639.93 L305.27,638.81 L307.71,637.68 L310.16,636.54 L312.6,635.39 L315.04,634.22 L317.48,633.05 L319.92,631.87 L322.36,630.67 L324.8,629.47 L327.24,628.26 L329.68,627.04 L332.12,625.82 L334.56,624.59 L337,623.36" fill="none" stroke="#a90f35" stroke-width="1.5"/>
<line x1="219.5" y1="598" x2="219.5" y2="679.6" stroke="#1a1a1a" stroke-width="1.2"/>
<line x1="216.5" y1="601" x2="219.5" y2="601" stroke="#1a1a1a" stroke-width="1"/>
<text x="213.2" y="602.9" font-size="5.5" stroke="#333333" stroke-width="0.14" text-anchor="end" textLength="7" lengthAdjust="spacingAndGlyphs">1.0</text>
<line x1="216.5" y1="640" x2="219.5" y2="640" stroke="#1a1a1a" stroke-width="1"/>
<text x="213.2" y="641.9" font-size="5.5" stroke="#333333" stroke-width="0.14" text-anchor="end" textLength="7" lengthAdjust="spacingAndGlyphs">0.5</text>
<line x1="216.5" y1="679" x2="219.5" y2="679" stroke="#1a1a1a" stroke-width="1"/>
<text x="213.2" y="680.9" font-size="5.5" stroke="#333333" stroke-width="0.14" text-anchor="end" textLength="7" lengthAdjust="spacingAndGlyphs">0.0</text>
<line x1="218.9" y1="679" x2="337.8" y2="679" stroke="#1a1a1a" stroke-width="1.2"/>
<line x1="224.5" y1="679" x2="224.5" y2="682" stroke="#1a1a1a" stroke-width="1"/>
<text x="224.7" y="690.5" font-size="5.8" text-anchor="middle" stroke="#333333" stroke-width="0.14">2<tspan font-size="3.71" dx="0.9" dy="-1.9">12</tspan></text>
<line x1="234.5" y1="679" x2="234.5" y2="682" stroke="#1a1a1a" stroke-width="1"/>
<text x="234.7" y="690.5" font-size="5.8" text-anchor="middle" stroke="#333333" stroke-width="0.14">2<tspan font-size="3.71" dx="0.9" dy="-1.9">11</tspan></text>
<line x1="244.5" y1="679" x2="244.5" y2="682" stroke="#1a1a1a" stroke-width="1"/>
<text x="244.7" y="690.5" font-size="5.8" text-anchor="middle" stroke="#333333" stroke-width="0.14">2<tspan font-size="3.71" dx="0.9" dy="-1.9">10</tspan></text>
<line x1="254.5" y1="679" x2="254.5" y2="682" stroke="#1a1a1a" stroke-width="1"/>
<text x="254.7" y="690.5" font-size="5.8" text-anchor="middle" stroke="#333333" stroke-width="0.14">2<tspan font-size="3.71" dx="0.9" dy="-1.9">9</tspan></text>
<line x1="264.5" y1="679" x2="264.5" y2="682" stroke="#1a1a1a" stroke-width="1"/>
<text x="264.7" y="690.5" font-size="5.8" text-anchor="middle" stroke="#333333" stroke-width="0.14">2<tspan font-size="3.71" dx="0.9" dy="-1.9">8</tspan></text>
<line x1="274.5" y1="679" x2="274.5" y2="682" stroke="#1a1a1a" stroke-width="1"/>
<text x="274.7" y="690.5" font-size="5.8" text-anchor="middle" stroke="#333333" stroke-width="0.14">2<tspan font-size="3.71" dx="0.9" dy="-1.9">7</tspan></text>
<line x1="284.5" y1="679" x2="284.5" y2="682" stroke="#1a1a1a" stroke-width="1"/>
<text x="284.7" y="690.5" font-size="5.8" text-anchor="middle" stroke="#333333" stroke-width="0.14">2<tspan font-size="3.71" dx="0.9" dy="-1.9">6</tspan></text>
<line x1="294.5" y1="679" x2="294.5" y2="682" stroke="#1a1a1a" stroke-width="1"/>
<text x="294.7" y="690.5" font-size="5.8" text-anchor="middle" stroke="#333333" stroke-width="0.14">2<tspan font-size="3.71" dx="0.9" dy="-1.9">5</tspan></text>
<line x1="304.5" y1="679" x2="304.5" y2="682" stroke="#1a1a1a" stroke-width="1"/>
<text x="304.7" y="690.5" font-size="5.8" text-anchor="middle" stroke="#333333" stroke-width="0.14">2<tspan font-size="3.71" dx="0.9" dy="-1.9">4</tspan></text>
<line x1="314.5" y1="679" x2="314.5" y2="682" stroke="#1a1a1a" stroke-width="1"/>
<text x="314.7" y="690.5" font-size="5.8" text-anchor="middle" stroke="#333333" stroke-width="0.14">2<tspan font-size="3.71" dx="0.9" dy="-1.9">3</tspan></text>
<line x1="324.5" y1="679" x2="324.5" y2="682" stroke="#1a1a1a" stroke-width="1"/>
<text x="324.7" y="690.5" font-size="5.8" text-anchor="middle" stroke="#333333" stroke-width="0.14">2<tspan font-size="3.71" dx="0.9" dy="-1.9">2</tspan></text>
<line x1="334.5" y1="679" x2="334.5" y2="682" stroke="#1a1a1a" stroke-width="1"/>
<text x="334.7" y="690.5" font-size="5.8" text-anchor="middle" stroke="#333333" stroke-width="0.14">2<tspan font-size="3.71" dx="0.9" dy="-1.9">1</tspan></text>
<text x="278.4" y="599.46" font-size="5.4" text-anchor="middle" stroke="#333333" stroke-width="0.14" textLength="28" lengthAdjust="spacingAndGlyphs"><tspan font-style="italic">P</tspan> = 0.0301</text>
<text x="278.5" y="606.5" font-size="5.4" stroke="#333333" stroke-width="0.14" text-anchor="middle" textLength="17" lengthAdjust="spacingAndGlyphs">n = 99</text>
<text transform="translate(197.9 636.8) rotate(-90)" x="0" y="2.27" font-size="6.6" text-anchor="middle" textLength="71" lengthAdjust="spacingAndGlyphs" stroke="#333333" stroke-width="0.45">Probability of durable response</text>
<text x="278.85" y="702.19" font-size="8.1" stroke="#333333" stroke-width="0.45" text-anchor="middle" textLength="99.7" lengthAdjust="spacingAndGlyphs">No. CCR7+CD45RA+ T cells infused / TB</text>
<text x="185.3" y="590.2" font-size="12" stroke="#000" stroke-width="0.14" fill="#000" font-weight="bold">L</text>
<rect x="392.6" y="69.2" width="5.3" height="36.2" fill="#a3022b"/>
<rect x="400.9" y="66.6" width="5.2" height="38.8" fill="#2b4679"/>
<rect x="413.75" y="71" width="5.3" height="34.4" fill="#a3022b"/>
<rect x="422.05" y="69.6" width="5.2" height="35.8" fill="#2b4679"/>
<rect x="434.9" y="55" width="5.3" height="50.4" fill="#a3022b"/>
<rect x="443.2" y="67.3" width="5.2" height="38.1" fill="#2b4679"/>
<rect x="456.05" y="54.5" width="5.3" height="50.9" fill="#a3022b"/>
<rect x="464.35" y="44.7" width="5.2" height="60.7" fill="#2b4679"/>
<line x1="390.5" y1="32.1" x2="390.5" y2="106" stroke="#1a1a1a" stroke-width="1.2"/>
<line x1="471.7" y1="32.1" x2="471.7" y2="106" stroke="#1a1a1a" stroke-width="1.2"/>
<line x1="389.9" y1="105.4" x2="472.3" y2="105.4" stroke="#1a1a1a" stroke-width="1.2"/>
<line x1="387.5" y1="35" x2="390.5" y2="35" stroke="#1a1a1a" stroke-width="1"/>
<text x="383.9" y="37.05" font-size="6" stroke="#333333" stroke-width="0.14" text-anchor="end">60</text>
<line x1="387.5" y1="58.5" x2="390.5" y2="58.5" stroke="#1a1a1a" stroke-width="1"/>
<text x="383.9" y="60.55" font-size="6" stroke="#333333" stroke-width="0.14" text-anchor="end">40</text>
<line x1="387.5" y1="82" x2="390.5" y2="82" stroke="#1a1a1a" stroke-width="1"/>
<text x="383.9" y="84.05" font-size="6" stroke="#333333" stroke-width="0.14" text-anchor="end">20</text>
<line x1="387.5" y1="105.4" x2="390.5" y2="105.4" stroke="#1a1a1a" stroke-width="1"/>
<text x="383.9" y="107.45" font-size="6" stroke="#333333" stroke-width="0.14" text-anchor="end">0</text>
<line x1="471.7" y1="34.6" x2="474.7" y2="34.6" stroke="#1a1a1a" stroke-width="1"/>
<text x="477.7" y="36.65" font-size="6" stroke="#333333" stroke-width="0.14" textLength="11" lengthAdjust="spacingAndGlyphs">0.02</text>
<line x1="471.7" y1="52.3" x2="474.7" y2="52.3" stroke="#1a1a1a" stroke-width="1"/>
<text x="477.7" y="54.35" font-size="6" stroke="#333333" stroke-width="0.14" textLength="11" lengthAdjust="spacingAndGlyphs">0.02</text>
<line x1="471.7" y1="70" x2="474.7" y2="70" stroke="#1a1a1a" stroke-width="1"/>
<text x="477.7" y="72.05" font-size="6" stroke="#333333" stroke-width="0.14" textLength="11" lengthAdjust="spacingAndGlyphs">0.01</text>
<line x1="471.7" y1="87.7" x2="474.7" y2="87.7" stroke="#1a1a1a" stroke-width="1"/>
<text x="477.7" y="89.75" font-size="6" stroke="#333333" stroke-width="0.14" textLength="11" lengthAdjust="spacingAndGlyphs">0.01</text>
<line x1="471.7" y1="105.4" x2="474.7" y2="105.4" stroke="#1a1a1a" stroke-width="1"/>
<text x="477.7" y="107.45" font-size="6" stroke="#333333" stroke-width="0.14" textLength="11" lengthAdjust="spacingAndGlyphs">0.00</text>
<line x1="399.3" y1="105.4" x2="399.3" y2="108" stroke="#1a1a1a" stroke-width="1"/>
<text x="399.5" y="116.75" font-size="5.6" stroke="#333333" stroke-width="0.14" text-anchor="middle">Q1</text>
<line x1="420.05" y1="105.4" x2="420.05" y2="108" stroke="#1a1a1a" stroke-width="1"/>
<text x="420.25" y="116.75" font-size="5.6" stroke="#333333" stroke-width="0.14" text-anchor="middle">Q2</text>
<line x1="440.8" y1="105.4" x2="440.8" y2="108" stroke="#1a1a1a" stroke-width="1"/>
<text x="441" y="116.75" font-size="5.6" stroke="#333333" stroke-width="0.14" text-anchor="middle">Q3</text>
<line x1="461.55" y1="105.4" x2="461.55" y2="108" stroke="#1a1a1a" stroke-width="1"/>
<text x="461.75" y="116.75" font-size="5.6" stroke="#333333" stroke-width="0.14" text-anchor="middle">Q4</text>
<text x="391.8" y="32.25" font-size="5" stroke="#b8224a" stroke-width="0.05" fill="#b8224a" textLength="71.6" lengthAdjust="spacingAndGlyphs">Spearman's correlation = 0.1452</text>
<text x="391.8" y="37.75" font-size="5" stroke="#b8224a" stroke-width="0.05" fill="#b8224a" textLength="41.6" lengthAdjust="spacingAndGlyphs"><tspan font-style="italic">P</tspan> = 0.1537; n = 98</text>
<text x="391.8" y="43.95" font-size="5" stroke="#45619a" stroke-width="0.05" fill="#45619a" textLength="71.6" lengthAdjust="spacingAndGlyphs">Spearman's correlation = 0.1253</text>
<text x="391.8" y="49.55" font-size="5" stroke="#45619a" stroke-width="0.05" fill="#45619a" textLength="42" lengthAdjust="spacingAndGlyphs"><tspan font-style="italic">P</tspan> = 0.2214, n = 97</text>
<path d="M389.8,126 L471.8,121.4 L471.8,126 Z" fill="#000"/>
<text x="430.6" y="135.69" font-size="8.1" stroke="#333333" stroke-width="0.45" text-anchor="middle" textLength="55.8" lengthAdjust="spacingAndGlyphs">No. CD8 T cells infused</text>
<text transform="translate(369.1 68.45) rotate(-90)" x="0" y="2.48" font-size="7.2" text-anchor="middle" textLength="52.5" lengthAdjust="spacingAndGlyphs" stroke="#b8224a" stroke-width="0.3" fill="#b8224a">Peak CAR T cells /µL</text>
<text transform="translate(508 68.5) rotate(90)" x="0" y="2.41" font-size="7" text-anchor="middle" textLength="79.7" lengthAdjust="spacingAndGlyphs" stroke="#45619a" stroke-width="0.25" fill="#45619a">Peak CAR T cells / tumor burden</text>
<text transform="translate(496.6 67.8) rotate(90)" x="0" y="2.41" font-size="7.0" text-anchor="middle" fill="#45619a" stroke="#45619a" stroke-width="0.22" textLength="37.9" lengthAdjust="spacingAndGlyphs">(10<tspan font-size="4.2" dy="-2.4">8</tspan><tspan dy="2.4"> cells/mm</tspan><tspan font-size="4.2" dy="-2.4">3</tspan><tspan dy="2.4">)</tspan></text>
<text x="356.6" y="18" font-size="12" stroke="#000" stroke-width="0.14" fill="#000" font-weight="bold">C</text>
<rect x="392.6" y="220" width="5.3" height="33.5" fill="#a3022b"/>
<rect x="400.9" y="248.5" width="5.2" height="5" fill="#2b4679"/>
<rect x="413.75" y="202.9" width="5.3" height="50.6" fill="#a3022b"/>
<rect x="422.05" y="239.8" width="5.2" height="13.7" fill="#2b4679"/>
<rect x="434.9" y="199.5" width="5.3" height="54" fill="#a3022b"/>
<rect x="443.2" y="232.1" width="5.2" height="21.4" fill="#2b4679"/>
<rect x="456.05" y="219" width="5.3" height="34.5" fill="#a3022b"/>
<rect x="464.35" y="197.7" width="5.2" height="55.8" fill="#2b4679"/>
<line x1="390.5" y1="179.8" x2="390.5" y2="254.1" stroke="#1a1a1a" stroke-width="1.2"/>
<line x1="471.8" y1="180.4" x2="471.8" y2="254.1" stroke="#1a1a1a" stroke-width="1.2"/>
<line x1="389.9" y1="253.5" x2="472.4" y2="253.5" stroke="#1a1a1a" stroke-width="1.2"/>
<line x1="387.5" y1="183.1" x2="390.5" y2="183.1" stroke="#1a1a1a" stroke-width="1"/>
<text x="383.9" y="185.15" font-size="6" stroke="#333333" stroke-width="0.14" text-anchor="end">60</text>
<line x1="387.5" y1="206.5" x2="390.5" y2="206.5" stroke="#1a1a1a" stroke-width="1"/>
<text x="383.9" y="208.55" font-size="6" stroke="#333333" stroke-width="0.14" text-anchor="end">40</text>
<line x1="387.5" y1="230" x2="390.5" y2="230" stroke="#1a1a1a" stroke-width="1"/>
<text x="383.9" y="232.05" font-size="6" stroke="#333333" stroke-width="0.14" text-anchor="end">20</text>
<line x1="387.5" y1="253.5" x2="390.5" y2="253.5" stroke="#1a1a1a" stroke-width="1"/>
<text x="383.9" y="255.55" font-size="6" stroke="#333333" stroke-width="0.14" text-anchor="end">0</text>
<line x1="471.8" y1="183.3" x2="474.8" y2="183.3" stroke="#1a1a1a" stroke-width="1"/>
<text x="477.8" y="185.35" font-size="6" stroke="#333333" stroke-width="0.14" textLength="11" lengthAdjust="spacingAndGlyphs">0.05</text>
<line x1="471.8" y1="197.3" x2="474.8" y2="197.3" stroke="#1a1a1a" stroke-width="1"/>
<text x="477.8" y="199.35" font-size="6" stroke="#333333" stroke-width="0.14" textLength="11" lengthAdjust="spacingAndGlyphs">0.04</text>
<line x1="471.8" y1="211.3" x2="474.8" y2="211.3" stroke="#1a1a1a" stroke-width="1"/>
<text x="477.8" y="213.35" font-size="6" stroke="#333333" stroke-width="0.14" textLength="11" lengthAdjust="spacingAndGlyphs">0.03</text>
<line x1="471.8" y1="225.4" x2="474.8" y2="225.4" stroke="#1a1a1a" stroke-width="1"/>
<text x="477.8" y="227.45" font-size="6" stroke="#333333" stroke-width="0.14" textLength="11" lengthAdjust="spacingAndGlyphs">0.02</text>
<line x1="471.8" y1="239.4" x2="474.8" y2="239.4" stroke="#1a1a1a" stroke-width="1"/>
<text x="477.8" y="241.45" font-size="6" stroke="#333333" stroke-width="0.14" textLength="11" lengthAdjust="spacingAndGlyphs">0.01</text>
<line x1="471.8" y1="253.5" x2="474.8" y2="253.5" stroke="#1a1a1a" stroke-width="1"/>
<text x="477.8" y="255.55" font-size="6" stroke="#333333" stroke-width="0.14" textLength="11" lengthAdjust="spacingAndGlyphs">0.00</text>
<line x1="399.3" y1="253.5" x2="399.3" y2="256.1" stroke="#1a1a1a" stroke-width="1"/>
<text x="399.5" y="264.45" font-size="5.6" stroke="#333333" stroke-width="0.14" text-anchor="middle">Q1</text>
<line x1="420.05" y1="253.5" x2="420.05" y2="256.1" stroke="#1a1a1a" stroke-width="1"/>
<text x="420.25" y="264.45" font-size="5.6" stroke="#333333" stroke-width="0.14" text-anchor="middle">Q2</text>
<line x1="440.8" y1="253.5" x2="440.8" y2="256.1" stroke="#1a1a1a" stroke-width="1"/>
<text x="441" y="264.45" font-size="5.6" stroke="#333333" stroke-width="0.14" text-anchor="middle">Q3</text>
<line x1="461.55" y1="253.5" x2="461.55" y2="256.1" stroke="#1a1a1a" stroke-width="1"/>
<text x="461.75" y="264.45" font-size="5.6" stroke="#333333" stroke-width="0.14" text-anchor="middle">Q4</text>
<text x="392.3" y="181.75" font-size="5" stroke="#b8224a" stroke-width="0.05" fill="#b8224a" textLength="72" lengthAdjust="spacingAndGlyphs">Spearman's correlation = 0.1123</text>
<text x="392.3" y="187.75" font-size="5" stroke="#b8224a" stroke-width="0.05" fill="#b8224a" textLength="42" lengthAdjust="spacingAndGlyphs"><tspan font-style="italic">P</tspan> = 0.2733, n = 97</text>
<text x="392.3" y="194.15" font-size="5" stroke="#45619a" stroke-width="0.05" fill="#45619a" textLength="71.2" lengthAdjust="spacingAndGlyphs">Spearman's correlation = 0.6076</text>
<text x="392.3" y="199.85" font-size="5" stroke="#45619a" stroke-width="0.05" fill="#45619a" textLength="42.7" lengthAdjust="spacingAndGlyphs"><tspan font-style="italic">P</tspan> = 0.0001, n = 97</text>
<path d="M389.8,273.8 L471.8,269.2 L471.8,273.8 Z" fill="#000"/>
<text x="430.75" y="284.19" font-size="8.1" stroke="#333333" stroke-width="0.45" text-anchor="middle" textLength="68.3" lengthAdjust="spacingAndGlyphs">No. CD8 T cells infused / TB</text>
<text transform="translate(369.1 216.9) rotate(-90)" x="0" y="2.48" font-size="7.2" text-anchor="middle" textLength="52" lengthAdjust="spacingAndGlyphs" stroke="#b8224a" stroke-width="0.3" fill="#b8224a">Peak CAR T cells /µL</text>
<text transform="translate(508 218.4) rotate(90)" x="0" y="2.41" font-size="7" text-anchor="middle" textLength="79.7" lengthAdjust="spacingAndGlyphs" stroke="#45619a" stroke-width="0.25" fill="#45619a">Peak CAR T cells / tumor burden</text>
<text transform="translate(496.6 217.8) rotate(90)" x="0" y="2.41" font-size="7.0" text-anchor="middle" fill="#45619a" stroke="#45619a" stroke-width="0.22" textLength="37.9" lengthAdjust="spacingAndGlyphs">(10<tspan font-size="4.2" dy="-2.4">8</tspan><tspan dy="2.4"> cells/mm</tspan><tspan font-size="4.2" dy="-2.4">3</tspan><tspan dy="2.4">)</tspan></text>
<text x="356.6" y="164.4" font-size="12" stroke="#000" stroke-width="0.14" fill="#000" font-weight="bold">F</text>
<rect x="392.6" y="497.7" width="5.3" height="33.3" fill="#a3022b"/>
<rect x="400.9" y="520.8" width="5.2" height="10.2" fill="#2b4679"/>
<rect x="413.75" y="500.2" width="5.3" height="30.8" fill="#a3022b"/>
<rect x="422.05" y="516.9" width="5.2" height="14.1" fill="#2b4679"/>
<rect x="434.9" y="501.9" width="5.3" height="29.1" fill="#a3022b"/>
<rect x="443.2" y="519.8" width="5.2" height="11.2" fill="#2b4679"/>
<rect x="456.05" y="475.2" width="5.3" height="55.8" fill="#a3022b"/>
<rect x="464.35" y="511" width="5.2" height="20" fill="#2b4679"/>
<line x1="390.5" y1="457.9" x2="390.5" y2="531.6" stroke="#1a1a1a" stroke-width="1.2"/>
<line x1="471.8" y1="457.7" x2="471.8" y2="531.6" stroke="#1a1a1a" stroke-width="1.2"/>
<line x1="389.9" y1="531" x2="472.4" y2="531" stroke="#1a1a1a" stroke-width="1.2"/>
<line x1="387.5" y1="460.4" x2="390.5" y2="460.4" stroke="#1a1a1a" stroke-width="1"/>
<text x="383.9" y="462.45" font-size="6" stroke="#333333" stroke-width="0.14" text-anchor="end">80</text>
<line x1="387.5" y1="478.1" x2="390.5" y2="478.1" stroke="#1a1a1a" stroke-width="1"/>
<text x="383.9" y="480.15" font-size="6" stroke="#333333" stroke-width="0.14" text-anchor="end">60</text>
<line x1="387.5" y1="495.8" x2="390.5" y2="495.8" stroke="#1a1a1a" stroke-width="1"/>
<text x="383.9" y="497.85" font-size="6" stroke="#333333" stroke-width="0.14" text-anchor="end">40</text>
<line x1="387.5" y1="513.5" x2="390.5" y2="513.5" stroke="#1a1a1a" stroke-width="1"/>
<text x="383.9" y="515.55" font-size="6" stroke="#333333" stroke-width="0.14" text-anchor="end">20</text>
<line x1="387.5" y1="531" x2="390.5" y2="531" stroke="#1a1a1a" stroke-width="1"/>
<text x="383.9" y="533.05" font-size="6" stroke="#333333" stroke-width="0.14" text-anchor="end">0</text>
<line x1="471.8" y1="460.3" x2="474.8" y2="460.3" stroke="#1a1a1a" stroke-width="1"/>
<text x="477.8" y="462.35" font-size="6" stroke="#333333" stroke-width="0.14" textLength="11" lengthAdjust="spacingAndGlyphs">0.06</text>
<line x1="471.8" y1="483.9" x2="474.8" y2="483.9" stroke="#1a1a1a" stroke-width="1"/>
<text x="477.8" y="485.95" font-size="6" stroke="#333333" stroke-width="0.14" textLength="11" lengthAdjust="spacingAndGlyphs">0.04</text>
<line x1="471.8" y1="507.5" x2="474.8" y2="507.5" stroke="#1a1a1a" stroke-width="1"/>
<text x="477.8" y="509.55" font-size="6" stroke="#333333" stroke-width="0.14" textLength="11" lengthAdjust="spacingAndGlyphs">0.02</text>
<line x1="471.8" y1="531" x2="474.8" y2="531" stroke="#1a1a1a" stroke-width="1"/>
<text x="477.8" y="533.05" font-size="6" stroke="#333333" stroke-width="0.14" textLength="11" lengthAdjust="spacingAndGlyphs">0.00</text>
<line x1="399.3" y1="531" x2="399.3" y2="533.6" stroke="#1a1a1a" stroke-width="1"/>
<text x="399.5" y="542.45" font-size="5.6" stroke="#333333" stroke-width="0.14" text-anchor="middle">Q1</text>
<line x1="420.05" y1="531" x2="420.05" y2="533.6" stroke="#1a1a1a" stroke-width="1"/>
<text x="420.25" y="542.45" font-size="5.6" stroke="#333333" stroke-width="0.14" text-anchor="middle">Q2</text>
<line x1="440.8" y1="531" x2="440.8" y2="533.6" stroke="#1a1a1a" stroke-width="1"/>
<text x="441" y="542.45" font-size="5.6" stroke="#333333" stroke-width="0.14" text-anchor="middle">Q3</text>
<line x1="461.55" y1="531" x2="461.55" y2="533.6" stroke="#1a1a1a" stroke-width="1"/>
<text x="461.75" y="542.45" font-size="5.6" stroke="#333333" stroke-width="0.14" text-anchor="middle">Q4</text>
<text x="392.2" y="458.55" font-size="5" stroke="#b8224a" stroke-width="0.05" fill="#b8224a" textLength="71.2" lengthAdjust="spacingAndGlyphs">Spearman's correlation = 0.1719</text>
<text x="392.2" y="464.25" font-size="5" stroke="#b8224a" stroke-width="0.05" fill="#b8224a" textLength="42" lengthAdjust="spacingAndGlyphs"><tspan font-style="italic">P</tspan> = 0.0906, n = 98</text>
<text x="392.2" y="469.95" font-size="5" stroke="#45619a" stroke-width="0.05" fill="#45619a" textLength="71.2" lengthAdjust="spacingAndGlyphs">Spearman's correlation = 0.2852</text>
<text x="392.2" y="475.85" font-size="5" stroke="#45619a" stroke-width="0.05" fill="#45619a" textLength="41.6" lengthAdjust="spacingAndGlyphs"><tspan font-style="italic">P</tspan> = 0.0046, n = 97</text>
<path d="M389.8,551.5 L471.8,546.9 L471.8,551.5 Z" fill="#000"/>
<text x="430.75" y="561.39" font-size="8.1" stroke="#333333" stroke-width="0.45" text-anchor="middle" textLength="86.3" lengthAdjust="spacingAndGlyphs">No. CCR7+CD45RA+ T cells infused</text>
<text transform="translate(369.1 494.2) rotate(-90)" x="0" y="2.48" font-size="7.2" text-anchor="middle" textLength="52.2" lengthAdjust="spacingAndGlyphs" stroke="#b8224a" stroke-width="0.3" fill="#b8224a">Peak CAR T cells /µL</text>
<text transform="translate(508 494.2) rotate(90)" x="0" y="2.41" font-size="7" text-anchor="middle" textLength="79.3" lengthAdjust="spacingAndGlyphs" stroke="#45619a" stroke-width="0.25" fill="#45619a">Peak CAR T cells / tumor burden</text>
<text transform="translate(496.6 494) rotate(90)" x="0" y="2.41" font-size="7.0" text-anchor="middle" fill="#45619a" stroke="#45619a" stroke-width="0.22" textLength="37.9" lengthAdjust="spacingAndGlyphs">(10<tspan font-size="4.2" dy="-2.4">8</tspan><tspan dy="2.4"> cells/mm</tspan><tspan font-size="4.2" dy="-2.4">3</tspan><tspan dy="2.4">)</tspan></text>
<text x="355.8" y="443.8" font-size="12" stroke="#000" stroke-width="0.14" fill="#000" font-weight="bold">J</text>
<rect x="392.6" y="652.5" width="5.3" height="26.5" fill="#a3022b"/>
<rect x="400.9" y="676" width="5.2" height="3" fill="#2b4679"/>
<rect x="413.75" y="641.5" width="5.3" height="37.5" fill="#a3022b"/>
<rect x="422.05" y="666.9" width="5.2" height="12.1" fill="#2b4679"/>
<rect x="434.9" y="651" width="5.3" height="28" fill="#a3022b"/>
<rect x="443.2" y="665" width="5.2" height="14" fill="#2b4679"/>
<rect x="456.05" y="632.9" width="5.3" height="46.1" fill="#a3022b"/>
<rect x="464.35" y="615" width="5.2" height="64" fill="#2b4679"/>
<line x1="390.5" y1="605.8" x2="390.5" y2="679.6" stroke="#1a1a1a" stroke-width="1.2"/>
<line x1="471.8" y1="606" x2="471.8" y2="679.6" stroke="#1a1a1a" stroke-width="1.2"/>
<line x1="389.9" y1="679" x2="472.4" y2="679" stroke="#1a1a1a" stroke-width="1.2"/>
<line x1="387.5" y1="608.7" x2="390.5" y2="608.7" stroke="#1a1a1a" stroke-width="1"/>
<text x="383.9" y="610.75" font-size="6" stroke="#333333" stroke-width="0.14" text-anchor="end">80</text>
<line x1="387.5" y1="626.3" x2="390.5" y2="626.3" stroke="#1a1a1a" stroke-width="1"/>
<text x="383.9" y="628.35" font-size="6" stroke="#333333" stroke-width="0.14" text-anchor="end">60</text>
<line x1="387.5" y1="643.9" x2="390.5" y2="643.9" stroke="#1a1a1a" stroke-width="1"/>
<text x="383.9" y="645.95" font-size="6" stroke="#333333" stroke-width="0.14" text-anchor="end">40</text>
<line x1="387.5" y1="661.5" x2="390.5" y2="661.5" stroke="#1a1a1a" stroke-width="1"/>
<text x="383.9" y="663.55" font-size="6" stroke="#333333" stroke-width="0.14" text-anchor="end">20</text>
<line x1="387.5" y1="679" x2="390.5" y2="679" stroke="#1a1a1a" stroke-width="1"/>
<text x="383.9" y="681.05" font-size="6" stroke="#333333" stroke-width="0.14" text-anchor="end">0</text>
<line x1="471.8" y1="608.8" x2="474.8" y2="608.8" stroke="#1a1a1a" stroke-width="1"/>
<text x="477.8" y="610.85" font-size="6" stroke="#333333" stroke-width="0.14" textLength="11" lengthAdjust="spacingAndGlyphs">0.06</text>
<line x1="471.8" y1="632.2" x2="474.8" y2="632.2" stroke="#1a1a1a" stroke-width="1"/>
<text x="477.8" y="634.25" font-size="6" stroke="#333333" stroke-width="0.14" textLength="11" lengthAdjust="spacingAndGlyphs">0.04</text>
<line x1="471.8" y1="655.6" x2="474.8" y2="655.6" stroke="#1a1a1a" stroke-width="1"/>
<text x="477.8" y="657.65" font-size="6" stroke="#333333" stroke-width="0.14" textLength="11" lengthAdjust="spacingAndGlyphs">0.02</text>
<line x1="471.8" y1="679" x2="474.8" y2="679" stroke="#1a1a1a" stroke-width="1"/>
<text x="477.8" y="681.05" font-size="6" stroke="#333333" stroke-width="0.14" textLength="11" lengthAdjust="spacingAndGlyphs">0.00</text>
<line x1="399.3" y1="679" x2="399.3" y2="681.6" stroke="#1a1a1a" stroke-width="1"/>
<text x="399.5" y="690.65" font-size="5.6" stroke="#333333" stroke-width="0.14" text-anchor="middle">Q1</text>
<line x1="420.05" y1="679" x2="420.05" y2="681.6" stroke="#1a1a1a" stroke-width="1"/>
<text x="420.25" y="690.65" font-size="5.6" stroke="#333333" stroke-width="0.14" text-anchor="middle">Q2</text>
<line x1="440.8" y1="679" x2="440.8" y2="681.6" stroke="#1a1a1a" stroke-width="1"/>
<text x="441" y="690.65" font-size="5.6" stroke="#333333" stroke-width="0.14" text-anchor="middle">Q3</text>
<line x1="461.55" y1="679" x2="461.55" y2="681.6" stroke="#1a1a1a" stroke-width="1"/>
<text x="461.75" y="690.65" font-size="5.6" stroke="#333333" stroke-width="0.14" text-anchor="middle">Q4</text>
<text x="392.6" y="602.95" font-size="5" stroke="#b8224a" stroke-width="0.05" fill="#b8224a" textLength="71.6" lengthAdjust="spacingAndGlyphs">Spearman's correlation = 0.1614</text>
<text x="392.6" y="608.25" font-size="5" stroke="#b8224a" stroke-width="0.05" fill="#b8224a" textLength="41.6" lengthAdjust="spacingAndGlyphs"><tspan font-style="italic">P</tspan> =0.1143, n = 97</text>
<text x="392.6" y="614.45" font-size="5" stroke="#45619a" stroke-width="0.05" fill="#45619a" textLength="67.7" lengthAdjust="spacingAndGlyphs">Spearman's correlation = 0.629</text>
<text x="392.6" y="620.25" font-size="5" stroke="#45619a" stroke-width="0.05" fill="#45619a" textLength="42.3" lengthAdjust="spacingAndGlyphs"><tspan font-style="italic">P</tspan> = 0.0001, n = 97</text>
<path d="M389.8,699.6 L471.8,695 L471.8,699.6 Z" fill="#000"/>
<text x="431" y="710.19" font-size="8.1" stroke="#333333" stroke-width="0.45" text-anchor="middle" textLength="99.6" lengthAdjust="spacingAndGlyphs">No. CCR7+CD45RA+ T cells infused / TB</text>
<text transform="translate(369.1 642.4) rotate(-90)" x="0" y="2.48" font-size="7.2" text-anchor="middle" textLength="52.5" lengthAdjust="spacingAndGlyphs" stroke="#b8224a" stroke-width="0.3" fill="#b8224a">Peak CAR T cells /µL</text>
<text transform="translate(508 642.7) rotate(90)" x="0" y="2.41" font-size="7" text-anchor="middle" textLength="79.6" lengthAdjust="spacingAndGlyphs" stroke="#45619a" stroke-width="0.25" fill="#45619a">Peak CAR T cells / tumor burden</text>
<text transform="translate(496.6 642) rotate(90)" x="0" y="2.41" font-size="7.0" text-anchor="middle" fill="#45619a" stroke="#45619a" stroke-width="0.22" textLength="38" lengthAdjust="spacingAndGlyphs">(10<tspan font-size="4.2" dy="-2.4">8</tspan><tspan dy="2.4"> cells/mm</tspan><tspan font-size="4.2" dy="-2.4">3</tspan><tspan dy="2.4">)</tspan></text>
<text x="356.6" y="590" font-size="12" stroke="#000" stroke-width="0.14" fill="#000" font-weight="bold">M</text>
<line x1="47.8" y1="327" x2="47.8" y2="393.9" stroke="#1a1a1a" stroke-width="1.2"/>
<line x1="44.8" y1="329.6" x2="47.8" y2="329.6" stroke="#1a1a1a" stroke-width="1"/>
<text x="42.2" y="331.65" font-size="6" stroke="#333333" stroke-width="0.12" text-anchor="end">1000</text>
<line x1="44.8" y1="361.4" x2="47.8" y2="361.4" stroke="#1a1a1a" stroke-width="1"/>
<text x="42.2" y="363.45" font-size="6" stroke="#333333" stroke-width="0.12" text-anchor="end">100</text>
<line x1="44.8" y1="393.3" x2="47.8" y2="393.3" stroke="#1a1a1a" stroke-width="1"/>
<text x="42" y="395.25" font-size="5.4" stroke="#555" stroke-width="0.12" text-anchor="end" fill="#555">10</text>
<line x1="46" y1="351.83" x2="47.8" y2="351.83" stroke="#1a1a1a" stroke-width="0.8"/>
<line x1="46" y1="346.23" x2="47.8" y2="346.23" stroke="#1a1a1a" stroke-width="0.8"/>
<line x1="46" y1="342.25" x2="47.8" y2="342.25" stroke="#1a1a1a" stroke-width="0.8"/>
<line x1="46" y1="339.17" x2="47.8" y2="339.17" stroke="#1a1a1a" stroke-width="0.8"/>
<line x1="46" y1="336.65" x2="47.8" y2="336.65" stroke="#1a1a1a" stroke-width="0.8"/>
<line x1="46" y1="334.53" x2="47.8" y2="334.53" stroke="#1a1a1a" stroke-width="0.8"/>
<line x1="46" y1="332.68" x2="47.8" y2="332.68" stroke="#1a1a1a" stroke-width="0.8"/>
<line x1="46" y1="331.06" x2="47.8" y2="331.06" stroke="#1a1a1a" stroke-width="0.8"/>
<line x1="46" y1="383.73" x2="47.8" y2="383.73" stroke="#1a1a1a" stroke-width="0.8"/>
<line x1="46" y1="378.13" x2="47.8" y2="378.13" stroke="#1a1a1a" stroke-width="0.8"/>
<line x1="46" y1="374.15" x2="47.8" y2="374.15" stroke="#1a1a1a" stroke-width="0.8"/>
<line x1="46" y1="371.07" x2="47.8" y2="371.07" stroke="#1a1a1a" stroke-width="0.8"/>
<line x1="46" y1="368.55" x2="47.8" y2="368.55" stroke="#1a1a1a" stroke-width="0.8"/>
<line x1="46" y1="366.43" x2="47.8" y2="366.43" stroke="#1a1a1a" stroke-width="0.8"/>
<line x1="46" y1="364.58" x2="47.8" y2="364.58" stroke="#1a1a1a" stroke-width="0.8"/>
<line x1="46" y1="362.96" x2="47.8" y2="362.96" stroke="#1a1a1a" stroke-width="0.8"/>
<rect x="48.1" y="393.3" width="101" height="7" fill="none" stroke="#1a1a1a" stroke-width="1.1"/>
<line x1="82.7" y1="393.3" x2="82.7" y2="400.3" stroke="#1a1a1a" stroke-width="1"/>
<line x1="115.4" y1="393.3" x2="115.4" y2="400.3" stroke="#1a1a1a" stroke-width="1"/>
<text x="65.5" y="398.7" font-size="5.5" stroke="#333333" stroke-width="0.14" text-anchor="middle">25</text>
<text x="99" y="398.7" font-size="5.5" stroke="#333333" stroke-width="0.14" text-anchor="middle">14</text>
<text x="132.4" y="398.7" font-size="5.5" stroke="#333333" stroke-width="0.14" text-anchor="middle">8</text>
<text x="65.5" y="408.9" font-size="5.5" stroke="#333333" stroke-width="0.14" text-anchor="middle" textLength="19" lengthAdjust="spacingAndGlyphs">Durable</text>
<text x="65.5" y="416.2" font-size="5.5" stroke="#333333" stroke-width="0.14" text-anchor="middle" textLength="22.5" lengthAdjust="spacingAndGlyphs">response</text>
<text x="99" y="408.9" font-size="5.5" stroke="#333333" stroke-width="0.14" text-anchor="middle" textLength="22" lengthAdjust="spacingAndGlyphs">Relapsed</text>
<text x="132.4" y="408.9" font-size="5.5" stroke="#333333" stroke-width="0.14" text-anchor="middle" textLength="7.7" lengthAdjust="spacingAndGlyphs">No</text>
<text x="132.4" y="416.2" font-size="5.5" stroke="#333333" stroke-width="0.14" text-anchor="middle" textLength="22.5" lengthAdjust="spacingAndGlyphs">response</text>
<line x1="65.5" y1="346.5" x2="65.5" y2="353.4" stroke="#111" stroke-width="1.1"/>
<line x1="65.5" y1="361.4" x2="65.5" y2="370.3" stroke="#111" stroke-width="1.1"/>
<line x1="60.2" y1="346.5" x2="70.4" y2="346.5" stroke="#222" stroke-width="1.2"/>
<line x1="60.2" y1="370.3" x2="70.4" y2="370.3" stroke="#222" stroke-width="1.2"/>
<rect x="55.4" y="353.4" width="20.2" height="8" rx="0.6" fill="none" stroke="#111" stroke-width="1.2"/>
<line x1="55.4" y1="354.8" x2="75.6" y2="354.8" stroke="#111" stroke-width="1.2"/>
<circle cx="60.6" cy="346.5" r="1.0" fill="#3a5a9c"/>
<circle cx="70" cy="346.5" r="1.0" fill="#3a5a9c"/>
<circle cx="60.6" cy="350.2" r="1.0" fill="#3a5a9c"/>
<circle cx="70" cy="349.8" r="1.0" fill="#3a5a9c"/>
<circle cx="56.3" cy="354.4" r="1.0" fill="#3a5a9c"/>
<circle cx="58.5" cy="354.4" r="1.0" fill="#3a5a9c"/>
<circle cx="61" cy="354.4" r="1.0" fill="#3a5a9c"/>
<circle cx="63.5" cy="354.4" r="1.0" fill="#3a5a9c"/>
<circle cx="66.2" cy="354.4" r="1.0" fill="#3a5a9c"/>
<circle cx="68.7" cy="354.4" r="1.0" fill="#3a5a9c"/>
<circle cx="71.2" cy="354.4" r="1.0" fill="#3a5a9c"/>
<circle cx="73.7" cy="354.4" r="1.0" fill="#3a5a9c"/>
<circle cx="58.1" cy="358.1" r="1.0" fill="#3a5a9c"/>
<circle cx="62.5" cy="357.8" r="1.0" fill="#3a5a9c"/>
<circle cx="67.5" cy="359" r="1.0" fill="#3a5a9c"/>
<circle cx="72.5" cy="359" r="1.0" fill="#3a5a9c"/>
<circle cx="58.5" cy="360" r="1.0" fill="#3a5a9c"/>
<circle cx="63.1" cy="363.5" r="1.0" fill="#3a5a9c"/>
<circle cx="67.7" cy="362.8" r="1.0" fill="#3a5a9c"/>
<circle cx="62.9" cy="368.1" r="1.0" fill="#3a5a9c"/>
<circle cx="67.9" cy="366.9" r="1.0" fill="#3a5a9c"/>
<circle cx="62.5" cy="370.5" r="1.0" fill="#3a5a9c"/>
<circle cx="68.7" cy="370.5" r="1.0" fill="#3a5a9c"/>
<line x1="98.85" y1="335.6" x2="98.85" y2="347.9" stroke="#111" stroke-width="1.1"/>
<line x1="98.85" y1="371.3" x2="98.85" y2="377.3" stroke="#111" stroke-width="1.1"/>
<line x1="94.5" y1="335.6" x2="103.7" y2="335.6" stroke="#222" stroke-width="1.2"/>
<line x1="94.5" y1="377.3" x2="103.7" y2="377.3" stroke="#222" stroke-width="1.2"/>
<rect x="89" y="347.9" width="19.7" height="23.4" rx="0.6" fill="none" stroke="#111" stroke-width="1.2"/>
<line x1="89" y1="357.3" x2="108.7" y2="357.3" stroke="#111" stroke-width="1.2"/>
<circle cx="99" cy="335.6" r="1.0" fill="#c0173f"/>
<circle cx="96.5" cy="342.1" r="1.0" fill="#c0173f"/>
<circle cx="101.2" cy="341" r="1.0" fill="#c0173f"/>
<circle cx="99" cy="350" r="1.0" fill="#c0173f"/>
<circle cx="96.9" cy="354.4" r="1.0" fill="#c0173f"/>
<circle cx="101.2" cy="353.8" r="1.0" fill="#c0173f"/>
<circle cx="96.9" cy="357.8" r="1.0" fill="#c0173f"/>
<circle cx="101.2" cy="357.8" r="1.0" fill="#c0173f"/>
<circle cx="99" cy="365" r="1.0" fill="#c0173f"/>
<circle cx="99" cy="369.4" r="1.0" fill="#c0173f"/>
<circle cx="96.9" cy="372.5" r="1.0" fill="#c0173f"/>
<circle cx="100.6" cy="372.5" r="1.0" fill="#c0173f"/>
<circle cx="99" cy="375" r="1.0" fill="#c0173f"/>
<circle cx="99" cy="377.2" r="1.0" fill="#c0173f"/>
<line x1="132.55" y1="345.2" x2="132.55" y2="350.6" stroke="#111" stroke-width="1.1"/>
<line x1="132.55" y1="364.3" x2="132.55" y2="371.2" stroke="#111" stroke-width="1.1"/>
<line x1="127.8" y1="345.2" x2="137.5" y2="345.2" stroke="#222" stroke-width="1.2"/>
<line x1="127.8" y1="371.2" x2="137.5" y2="371.2" stroke="#222" stroke-width="1.2"/>
<rect x="122.6" y="350.6" width="19.9" height="13.7" rx="0.6" fill="none" stroke="#111" stroke-width="1.2"/>
<line x1="122.6" y1="355.1" x2="142.5" y2="355.1" stroke="#111" stroke-width="1.2"/>
<circle cx="132.6" cy="345.2" r="1.0" fill="#5cba3c"/>
<circle cx="132.6" cy="350.1" r="1.0" fill="#5cba3c"/>
<circle cx="132.6" cy="352.2" r="1.0" fill="#5cba3c"/>
<circle cx="130.1" cy="355.1" r="1.0" fill="#5cba3c"/>
<circle cx="135.1" cy="354.9" r="1.0" fill="#5cba3c"/>
<circle cx="132.6" cy="357.9" r="1.0" fill="#5cba3c"/>
<circle cx="132.6" cy="368" r="1.0" fill="#5cba3c"/>
<circle cx="132.6" cy="371.3" r="1.0" fill="#5cba3c"/>
<path d="M63.3,326 L63.3,324.6 Q63.3,323.8 64.1,323.8 L132.9,323.8 Q133.7,323.8 133.7,324.6 L133.7,326" fill="none" stroke="#333" stroke-width="0.9"/>
<path d="M63.3,333.8 L63.3,332.4 Q63.3,331.6 64.1,331.6 L95.7,331.6 Q96.5,331.6 96.5,332.4 L96.5,333.8" fill="none" stroke="#333" stroke-width="0.9"/>
<path d="M100.3,333.8 L100.3,332.4 Q100.3,331.6 101.1,331.6 L132.9,331.6 Q133.7,331.6 133.7,332.4 L133.7,333.8" fill="none" stroke="#333" stroke-width="0.9"/>
<text x="99.2" y="322.49" font-size="5.2" text-anchor="middle" stroke="#333333" stroke-width="0.14" textLength="27.7" lengthAdjust="spacingAndGlyphs"><tspan font-style="italic">P</tspan> = 0.3702</text>
<text x="81" y="329.59" font-size="5.2" text-anchor="middle" stroke="#333333" stroke-width="0.14" textLength="24.9" lengthAdjust="spacingAndGlyphs"><tspan font-style="italic">P</tspan> = 0.663</text>
<text x="117" y="329.59" font-size="5.2" text-anchor="middle" stroke="#333333" stroke-width="0.14" textLength="28.1" lengthAdjust="spacingAndGlyphs"><tspan font-style="italic">P</tspan> = 0.7913</text>
<text x="99.3" y="312.3" font-size="7.9" stroke="#333333" stroke-width="0.14" text-anchor="middle" textLength="60.6" lengthAdjust="spacingAndGlyphs">Low tumor burden</text>
<text transform="translate(20.7 360.1) rotate(-90)" x="0" y="2.2" font-size="6.4" text-anchor="middle" textLength="56.4" lengthAdjust="spacingAndGlyphs" stroke="#333333" stroke-width="0.45">No. CD8 T cells infused</text>
<text x="42" y="398.9" font-size="4.6" stroke="#777" stroke-width="0.15" text-anchor="end" fill="#777" textLength="8.8" lengthAdjust="spacingAndGlyphs">n =</text>
<line x1="219.4" y1="327" x2="219.4" y2="393.7" stroke="#1a1a1a" stroke-width="1.2"/>
<line x1="216.4" y1="329.8" x2="219.4" y2="329.8" stroke="#1a1a1a" stroke-width="1"/>
<text x="213.8" y="331.85" font-size="6" stroke="#333333" stroke-width="0.12" text-anchor="end">1000</text>
<line x1="216.4" y1="361.5" x2="219.4" y2="361.5" stroke="#1a1a1a" stroke-width="1"/>
<text x="213.8" y="363.55" font-size="6" stroke="#333333" stroke-width="0.12" text-anchor="end">100</text>
<line x1="216.4" y1="393.1" x2="219.4" y2="393.1" stroke="#1a1a1a" stroke-width="1"/>
<text x="213.6" y="395.05" font-size="5.4" stroke="#555" stroke-width="0.12" text-anchor="end" fill="#555">10</text>
<line x1="217.6" y1="351.96" x2="219.4" y2="351.96" stroke="#1a1a1a" stroke-width="0.8"/>
<line x1="217.6" y1="346.38" x2="219.4" y2="346.38" stroke="#1a1a1a" stroke-width="0.8"/>
<line x1="217.6" y1="342.41" x2="219.4" y2="342.41" stroke="#1a1a1a" stroke-width="0.8"/>
<line x1="217.6" y1="339.34" x2="219.4" y2="339.34" stroke="#1a1a1a" stroke-width="0.8"/>
<line x1="217.6" y1="336.83" x2="219.4" y2="336.83" stroke="#1a1a1a" stroke-width="0.8"/>
<line x1="217.6" y1="334.71" x2="219.4" y2="334.71" stroke="#1a1a1a" stroke-width="0.8"/>
<line x1="217.6" y1="332.87" x2="219.4" y2="332.87" stroke="#1a1a1a" stroke-width="0.8"/>
<line x1="217.6" y1="331.25" x2="219.4" y2="331.25" stroke="#1a1a1a" stroke-width="0.8"/>
<line x1="217.6" y1="383.56" x2="219.4" y2="383.56" stroke="#1a1a1a" stroke-width="0.8"/>
<line x1="217.6" y1="377.98" x2="219.4" y2="377.98" stroke="#1a1a1a" stroke-width="0.8"/>
<line x1="217.6" y1="374.01" x2="219.4" y2="374.01" stroke="#1a1a1a" stroke-width="0.8"/>
<line x1="217.6" y1="370.94" x2="219.4" y2="370.94" stroke="#1a1a1a" stroke-width="0.8"/>
<line x1="217.6" y1="368.43" x2="219.4" y2="368.43" stroke="#1a1a1a" stroke-width="0.8"/>
<line x1="217.6" y1="366.31" x2="219.4" y2="366.31" stroke="#1a1a1a" stroke-width="0.8"/>
<line x1="217.6" y1="364.47" x2="219.4" y2="364.47" stroke="#1a1a1a" stroke-width="0.8"/>
<line x1="217.6" y1="362.85" x2="219.4" y2="362.85" stroke="#1a1a1a" stroke-width="0.8"/>
<rect x="219.7" y="393.1" width="101.1" height="7.3" fill="none" stroke="#1a1a1a" stroke-width="1.1"/>
<line x1="253.7" y1="393.1" x2="253.7" y2="400.4" stroke="#1a1a1a" stroke-width="1"/>
<line x1="287.6" y1="393.1" x2="287.6" y2="400.4" stroke="#1a1a1a" stroke-width="1"/>
<text x="236.4" y="398.65" font-size="5.5" stroke="#333333" stroke-width="0.14" text-anchor="middle">16</text>
<text x="270.5" y="398.65" font-size="5.5" stroke="#333333" stroke-width="0.14" text-anchor="middle">26</text>
<text x="304.3" y="398.65" font-size="5.5" stroke="#333333" stroke-width="0.14" text-anchor="middle">7</text>
<text x="236.4" y="408.9" font-size="5.5" stroke="#333333" stroke-width="0.14" text-anchor="middle" textLength="19" lengthAdjust="spacingAndGlyphs">Durable</text>
<text x="236.4" y="416.2" font-size="5.5" stroke="#333333" stroke-width="0.14" text-anchor="middle" textLength="22.5" lengthAdjust="spacingAndGlyphs">response</text>
<text x="270.5" y="408.9" font-size="5.5" stroke="#333333" stroke-width="0.14" text-anchor="middle" textLength="22" lengthAdjust="spacingAndGlyphs">Relapsed</text>
<text x="304.3" y="408.9" font-size="5.5" stroke="#333333" stroke-width="0.14" text-anchor="middle" textLength="7.7" lengthAdjust="spacingAndGlyphs">No</text>
<text x="304.3" y="416.2" font-size="5.5" stroke="#333333" stroke-width="0.14" text-anchor="middle" textLength="22.5" lengthAdjust="spacingAndGlyphs">response</text>
<line x1="236.95" y1="345" x2="236.95" y2="348.7" stroke="#111" stroke-width="1.1"/>
<line x1="236.95" y1="355.9" x2="236.95" y2="363.7" stroke="#111" stroke-width="1.1"/>
<line x1="232.3" y1="345" x2="242" y2="345" stroke="#222" stroke-width="1.2"/>
<line x1="232.3" y1="363.7" x2="242" y2="363.7" stroke="#222" stroke-width="1.2"/>
<rect x="227.1" y="348.7" width="19.7" height="7.2" rx="0.6" fill="none" stroke="#111" stroke-width="1.2"/>
<line x1="227.1" y1="353.2" x2="246.8" y2="353.2" stroke="#111" stroke-width="1.2"/>
<circle cx="236.9" cy="345" r="1.0" fill="#3a5a9c"/>
<circle cx="232.3" cy="347.7" r="1.0" fill="#3a5a9c"/>
<circle cx="242" cy="347.7" r="1.0" fill="#3a5a9c"/>
<circle cx="234.7" cy="351.1" r="1.0" fill="#3a5a9c"/>
<circle cx="239.6" cy="351.1" r="1.0" fill="#3a5a9c"/>
<circle cx="243.8" cy="350.7" r="1.0" fill="#3a5a9c"/>
<circle cx="229.9" cy="353.2" r="1.0" fill="#3a5a9c"/>
<circle cx="232.3" cy="353.8" r="1.0" fill="#3a5a9c"/>
<circle cx="237.2" cy="353.2" r="1.0" fill="#3a5a9c"/>
<circle cx="242" cy="353.8" r="1.0" fill="#3a5a9c"/>
<circle cx="229.9" cy="356.2" r="1.0" fill="#3a5a9c"/>
<circle cx="234.7" cy="355.9" r="1.0" fill="#3a5a9c"/>
<circle cx="239.6" cy="356.2" r="1.0" fill="#3a5a9c"/>
<circle cx="244.4" cy="356.2" r="1.0" fill="#3a5a9c"/>
<circle cx="236.9" cy="360.4" r="1.0" fill="#3a5a9c"/>
<circle cx="236.9" cy="363.7" r="1.0" fill="#3a5a9c"/>
<line x1="270.65" y1="341.6" x2="270.65" y2="355.2" stroke="#111" stroke-width="1.1"/>
<line x1="270.65" y1="364.4" x2="270.65" y2="371.9" stroke="#111" stroke-width="1.1"/>
<line x1="265.9" y1="341.6" x2="275.6" y2="341.6" stroke="#222" stroke-width="1.2"/>
<line x1="265.9" y1="371.9" x2="275.6" y2="371.9" stroke="#222" stroke-width="1.2"/>
<rect x="260.5" y="355.2" width="20.3" height="9.2" rx="0.6" fill="none" stroke="#111" stroke-width="1.2"/>
<line x1="260.5" y1="358" x2="280.8" y2="358" stroke="#111" stroke-width="1.2"/>
<circle cx="270.7" cy="341.6" r="1.0" fill="#c0173f"/>
<circle cx="268.1" cy="348.7" r="1.0" fill="#c0173f"/>
<circle cx="272.9" cy="348.3" r="1.0" fill="#c0173f"/>
<circle cx="270.7" cy="353.2" r="1.0" fill="#c0173f"/>
<circle cx="265.9" cy="353.8" r="1.0" fill="#c0173f"/>
<circle cx="275.3" cy="354.4" r="1.0" fill="#c0173f"/>
<circle cx="279.9" cy="354.7" r="1.0" fill="#c0173f"/>
<circle cx="261.8" cy="356.2" r="1.0" fill="#c0173f"/>
<circle cx="265.9" cy="356.2" r="1.0" fill="#c0173f"/>
<circle cx="270.7" cy="356.2" r="1.0" fill="#c0173f"/>
<circle cx="275.3" cy="356.2" r="1.0" fill="#c0173f"/>
<circle cx="279.9" cy="356.8" r="1.0" fill="#c0173f"/>
<circle cx="265.9" cy="360.4" r="1.0" fill="#c0173f"/>
<circle cx="270.7" cy="360.4" r="1.0" fill="#c0173f"/>
<circle cx="275.3" cy="361.6" r="1.0" fill="#c0173f"/>
<circle cx="265.9" cy="362.8" r="1.0" fill="#c0173f"/>
<circle cx="270.7" cy="363.5" r="1.0" fill="#c0173f"/>
<circle cx="275.3" cy="363.5" r="1.0" fill="#c0173f"/>
<circle cx="265.9" cy="366.5" r="1.0" fill="#c0173f"/>
<circle cx="270.7" cy="366.5" r="1.0" fill="#c0173f"/>
<circle cx="275.3" cy="366.5" r="1.0" fill="#c0173f"/>
<circle cx="270.7" cy="369.3" r="1.0" fill="#c0173f"/>
<circle cx="266.8" cy="371.9" r="1.0" fill="#c0173f"/>
<circle cx="270.7" cy="371.9" r="1.0" fill="#c0173f"/>
<circle cx="274.7" cy="371.9" r="1.0" fill="#c0173f"/>
<line x1="304.5" y1="351.4" x2="304.5" y2="352.1" stroke="#111" stroke-width="1.1"/>
<line x1="304.5" y1="356.2" x2="304.5" y2="368.4" stroke="#111" stroke-width="1.1"/>
<line x1="299.4" y1="351.4" x2="309.3" y2="351.4" stroke="#222" stroke-width="1.2"/>
<line x1="299.4" y1="368.4" x2="309.3" y2="368.4" stroke="#222" stroke-width="1.2"/>
<rect x="294.2" y="352.1" width="20.6" height="4.1" rx="0.6" fill="none" stroke="#111" stroke-width="1.2"/>
<line x1="294.2" y1="355" x2="314.8" y2="355" stroke="#111" stroke-width="1.2"/>
<circle cx="302.1" cy="351.8" r="1.0" fill="#5cba3c"/>
<circle cx="306.6" cy="351.1" r="1.0" fill="#5cba3c"/>
<circle cx="299.6" cy="354.4" r="1.0" fill="#5cba3c"/>
<circle cx="299.6" cy="356.7" r="1.0" fill="#5cba3c"/>
<circle cx="304.4" cy="355" r="1.0" fill="#5cba3c"/>
<circle cx="308.9" cy="355" r="1.0" fill="#5cba3c"/>
<circle cx="304.4" cy="368.4" r="1.0" fill="#5cba3c"/>
<path d="M235.7,330 L235.7,328.6 Q235.7,327.8 236.5,327.8 L303.8,327.8 Q304.6,327.8 304.6,328.6 L304.6,330" fill="none" stroke="#333" stroke-width="0.9"/>
<path d="M235.7,337.8 L235.7,336.4 Q235.7,335.6 236.5,335.6 L268.9,335.6 Q269.7,335.6 269.7,336.4 L269.7,337.8" fill="none" stroke="#333" stroke-width="0.9"/>
<path d="M270.9,337.8 L270.9,336.4 Q270.9,335.6 271.7,335.6 L303.8,335.6 Q304.6,335.6 304.6,336.4 L304.6,337.8" fill="none" stroke="#333" stroke-width="0.9"/>
<text x="270.9" y="326.19" font-size="5.2" text-anchor="middle" stroke="#333333" stroke-width="0.14" textLength="24.3" lengthAdjust="spacingAndGlyphs"><tspan font-style="italic">P</tspan> = 0.201</text>
<text x="252.3" y="333.99" font-size="5.2" text-anchor="middle" stroke="#333333" stroke-width="0.14" textLength="28.5" lengthAdjust="spacingAndGlyphs"><tspan font-style="italic">P</tspan> = 0.0034</text>
<text x="287.8" y="333.99" font-size="5.2" text-anchor="middle" stroke="#333333" stroke-width="0.14" textLength="28.5" lengthAdjust="spacingAndGlyphs"><tspan font-style="italic">P</tspan> = 0.1536</text>
<text x="270.6" y="316.7" font-size="7.9" stroke="#333333" stroke-width="0.14" text-anchor="middle" textLength="62.8" lengthAdjust="spacingAndGlyphs">High tumor burden</text>
<text transform="translate(192.2 360.1) rotate(-90)" x="0" y="2.2" font-size="6.4" text-anchor="middle" textLength="56.4" lengthAdjust="spacingAndGlyphs" stroke="#333333" stroke-width="0.45">No. CD8 T cells infused</text>
<text x="213.6" y="398.9" font-size="4.6" stroke="#777" stroke-width="0.15" text-anchor="end" fill="#777" textLength="8.8" lengthAdjust="spacingAndGlyphs">n =</text>
<text x="7.5" y="313.1" font-size="12" stroke="#000" stroke-width="0.14" fill="#000" font-weight="bold">G</text>
</g>
<path d="M0,0H520V719H0Z M1.15,1.15V717.4H518.85V1.15Z" fill="#000" fill-rule="evenodd"/>
</svg>
</body></html>
